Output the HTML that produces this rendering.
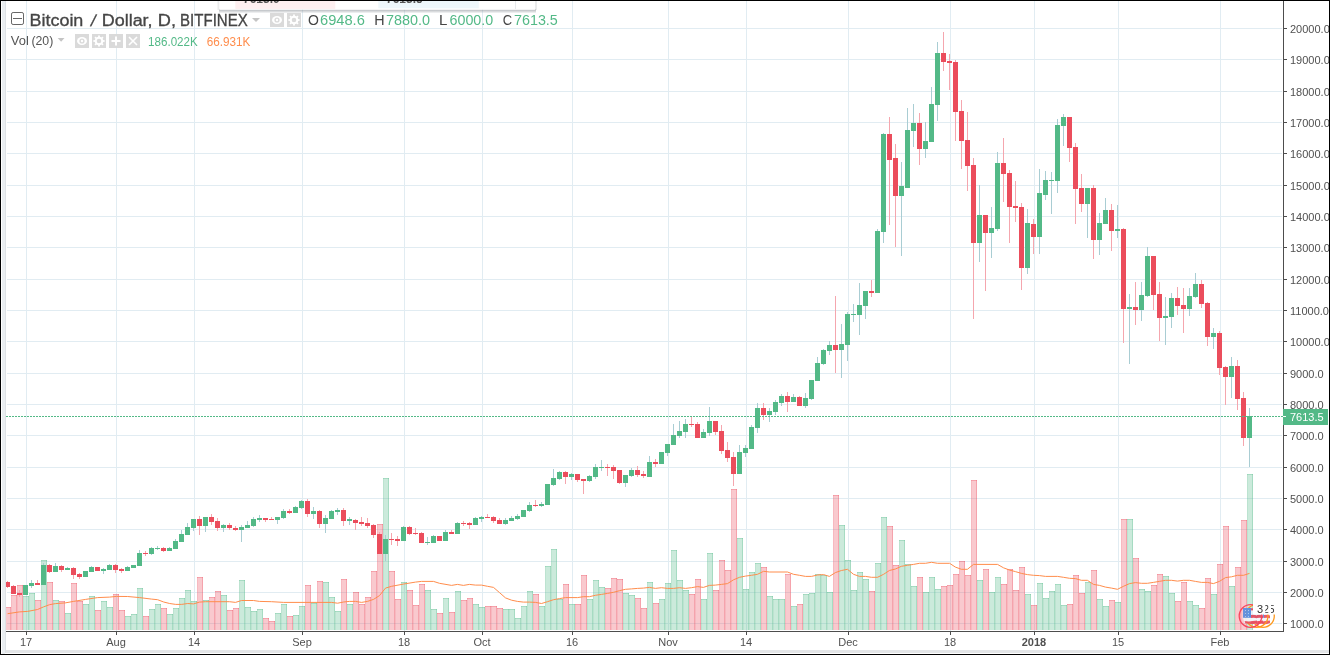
<!DOCTYPE html>
<html><head><meta charset="utf-8"><title>Bitcoin / Dollar, D, BITFINEX</title>
<style>html,body{margin:0;padding:0;background:#fff;overflow:hidden}</style></head>
<body>
<svg width="1330" height="655" viewBox="0 0 1330 655" style="display:block;font-family:'Liberation Sans',sans-serif">
<rect x="0" y="0" width="1330" height="655" fill="#fff"/>
<g shape-rendering="crispEdges">
<rect x="6" y="650" width="1323" height="3" fill="#e3e5e7"/>
<rect x="2" y="1" width="3" height="653" fill="#eaeef1"/>
<rect x="5" y="1" width="1" height="652" fill="#dde1e5"/>
<rect x="26" y="1" width="1" height="630" fill="#e1ecf2"/>
<rect x="116" y="1" width="1" height="630" fill="#e1ecf2"/>
<rect x="194" y="1" width="1" height="630" fill="#e1ecf2"/>
<rect x="302" y="1" width="1" height="630" fill="#e1ecf2"/>
<rect x="404" y="1" width="1" height="630" fill="#e1ecf2"/>
<rect x="482" y="1" width="1" height="630" fill="#e1ecf2"/>
<rect x="572" y="1" width="1" height="630" fill="#e1ecf2"/>
<rect x="668" y="1" width="1" height="630" fill="#e1ecf2"/>
<rect x="746" y="1" width="1" height="630" fill="#e1ecf2"/>
<rect x="848" y="1" width="1" height="630" fill="#e1ecf2"/>
<rect x="950" y="1" width="1" height="630" fill="#e1ecf2"/>
<rect x="1034" y="1" width="1" height="630" fill="#e1ecf2"/>
<rect x="1118" y="1" width="1" height="630" fill="#e1ecf2"/>
<rect x="1220" y="1" width="1" height="630" fill="#e1ecf2"/>
<rect x="7" y="28" width="1275" height="1" fill="#e1ecf2"/>
<rect x="7" y="59" width="1275" height="1" fill="#e1ecf2"/>
<rect x="7" y="91" width="1275" height="1" fill="#e1ecf2"/>
<rect x="7" y="122" width="1275" height="1" fill="#e1ecf2"/>
<rect x="7" y="153" width="1275" height="1" fill="#e1ecf2"/>
<rect x="7" y="185" width="1275" height="1" fill="#e1ecf2"/>
<rect x="7" y="216" width="1275" height="1" fill="#e1ecf2"/>
<rect x="7" y="247" width="1275" height="1" fill="#e1ecf2"/>
<rect x="7" y="279" width="1275" height="1" fill="#e1ecf2"/>
<rect x="7" y="310" width="1275" height="1" fill="#e1ecf2"/>
<rect x="7" y="341" width="1275" height="1" fill="#e1ecf2"/>
<rect x="7" y="373" width="1275" height="1" fill="#e1ecf2"/>
<rect x="7" y="404" width="1275" height="1" fill="#e1ecf2"/>
<rect x="7" y="435" width="1275" height="1" fill="#e1ecf2"/>
<rect x="7" y="467" width="1275" height="1" fill="#e1ecf2"/>
<rect x="7" y="498" width="1275" height="1" fill="#e1ecf2"/>
<rect x="7" y="529" width="1275" height="1" fill="#e1ecf2"/>
<rect x="7" y="561" width="1275" height="1" fill="#e1ecf2"/>
<rect x="7" y="592" width="1275" height="1" fill="#e1ecf2"/>
<rect x="7" y="623" width="1275" height="1" fill="#e1ecf2"/>
</g>
<defs><clipPath id="cp"><rect x="6" y="1" width="1277" height="630"/></clipPath></defs>
<g clip-path="url(#cp)" shape-rendering="crispEdges">
<rect x="5" y="607" width="6" height="23" fill="rgba(235,77,92,0.3)"/>
<rect x="10" y="607" width="1" height="23" fill="rgba(235,77,92,0.3)"/>
<rect x="5" y="607" width="1" height="23" fill="rgba(235,77,92,0.12)"/>
<rect x="5" y="607" width="6" height="1" fill="rgba(235,77,92,0.3)"/>
<rect x="11" y="595" width="6" height="35" fill="rgba(235,77,92,0.3)"/>
<rect x="16" y="595" width="1" height="35" fill="rgba(235,77,92,0.3)"/>
<rect x="11" y="595" width="1" height="35" fill="rgba(235,77,92,0.12)"/>
<rect x="11" y="595" width="6" height="1" fill="rgba(235,77,92,0.3)"/>
<rect x="17" y="585" width="6" height="45" fill="rgba(235,77,92,0.3)"/>
<rect x="22" y="585" width="1" height="45" fill="rgba(235,77,92,0.3)"/>
<rect x="17" y="585" width="1" height="45" fill="rgba(235,77,92,0.12)"/>
<rect x="17" y="585" width="6" height="1" fill="rgba(235,77,92,0.3)"/>
<rect x="23" y="596" width="6" height="34" fill="rgba(83,185,135,0.3)"/>
<rect x="28" y="596" width="1" height="34" fill="rgba(83,185,135,0.3)"/>
<rect x="23" y="596" width="1" height="34" fill="rgba(83,185,135,0.12)"/>
<rect x="23" y="596" width="6" height="1" fill="rgba(83,185,135,0.3)"/>
<rect x="29" y="593" width="6" height="37" fill="rgba(83,185,135,0.3)"/>
<rect x="34" y="593" width="1" height="37" fill="rgba(83,185,135,0.3)"/>
<rect x="29" y="593" width="1" height="37" fill="rgba(83,185,135,0.12)"/>
<rect x="29" y="593" width="6" height="1" fill="rgba(83,185,135,0.3)"/>
<rect x="35" y="600" width="6" height="30" fill="rgba(235,77,92,0.3)"/>
<rect x="40" y="600" width="1" height="30" fill="rgba(235,77,92,0.3)"/>
<rect x="35" y="600" width="1" height="30" fill="rgba(235,77,92,0.12)"/>
<rect x="35" y="600" width="6" height="1" fill="rgba(235,77,92,0.3)"/>
<rect x="41" y="560" width="6" height="70" fill="rgba(83,185,135,0.3)"/>
<rect x="46" y="560" width="1" height="70" fill="rgba(83,185,135,0.3)"/>
<rect x="41" y="560" width="1" height="70" fill="rgba(83,185,135,0.12)"/>
<rect x="41" y="560" width="6" height="1" fill="rgba(83,185,135,0.3)"/>
<rect x="47" y="582" width="6" height="48" fill="rgba(235,77,92,0.3)"/>
<rect x="52" y="582" width="1" height="48" fill="rgba(235,77,92,0.3)"/>
<rect x="47" y="582" width="1" height="48" fill="rgba(235,77,92,0.12)"/>
<rect x="47" y="582" width="6" height="1" fill="rgba(235,77,92,0.3)"/>
<rect x="53" y="600" width="6" height="30" fill="rgba(83,185,135,0.3)"/>
<rect x="58" y="600" width="1" height="30" fill="rgba(83,185,135,0.3)"/>
<rect x="53" y="600" width="1" height="30" fill="rgba(83,185,135,0.12)"/>
<rect x="53" y="600" width="6" height="1" fill="rgba(83,185,135,0.3)"/>
<rect x="59" y="601" width="6" height="29" fill="rgba(235,77,92,0.3)"/>
<rect x="64" y="601" width="1" height="29" fill="rgba(235,77,92,0.3)"/>
<rect x="59" y="601" width="1" height="29" fill="rgba(235,77,92,0.12)"/>
<rect x="59" y="601" width="6" height="1" fill="rgba(235,77,92,0.3)"/>
<rect x="65" y="613" width="6" height="17" fill="rgba(83,185,135,0.3)"/>
<rect x="70" y="613" width="1" height="17" fill="rgba(83,185,135,0.3)"/>
<rect x="65" y="613" width="1" height="17" fill="rgba(83,185,135,0.12)"/>
<rect x="65" y="613" width="6" height="1" fill="rgba(83,185,135,0.3)"/>
<rect x="71" y="583" width="6" height="47" fill="rgba(235,77,92,0.3)"/>
<rect x="76" y="583" width="1" height="47" fill="rgba(235,77,92,0.3)"/>
<rect x="71" y="583" width="1" height="47" fill="rgba(235,77,92,0.12)"/>
<rect x="71" y="583" width="6" height="1" fill="rgba(235,77,92,0.3)"/>
<rect x="77" y="601" width="6" height="29" fill="rgba(235,77,92,0.3)"/>
<rect x="82" y="601" width="1" height="29" fill="rgba(235,77,92,0.3)"/>
<rect x="77" y="601" width="1" height="29" fill="rgba(235,77,92,0.12)"/>
<rect x="77" y="601" width="6" height="1" fill="rgba(235,77,92,0.3)"/>
<rect x="83" y="604" width="6" height="26" fill="rgba(83,185,135,0.3)"/>
<rect x="88" y="604" width="1" height="26" fill="rgba(83,185,135,0.3)"/>
<rect x="83" y="604" width="1" height="26" fill="rgba(83,185,135,0.12)"/>
<rect x="83" y="604" width="6" height="1" fill="rgba(83,185,135,0.3)"/>
<rect x="89" y="596" width="6" height="34" fill="rgba(83,185,135,0.3)"/>
<rect x="94" y="596" width="1" height="34" fill="rgba(83,185,135,0.3)"/>
<rect x="89" y="596" width="1" height="34" fill="rgba(83,185,135,0.12)"/>
<rect x="89" y="596" width="6" height="1" fill="rgba(83,185,135,0.3)"/>
<rect x="95" y="610" width="6" height="20" fill="rgba(235,77,92,0.3)"/>
<rect x="100" y="610" width="1" height="20" fill="rgba(235,77,92,0.3)"/>
<rect x="95" y="610" width="1" height="20" fill="rgba(235,77,92,0.12)"/>
<rect x="95" y="610" width="6" height="1" fill="rgba(235,77,92,0.3)"/>
<rect x="101" y="601" width="6" height="29" fill="rgba(83,185,135,0.3)"/>
<rect x="106" y="601" width="1" height="29" fill="rgba(83,185,135,0.3)"/>
<rect x="101" y="601" width="1" height="29" fill="rgba(83,185,135,0.12)"/>
<rect x="101" y="601" width="6" height="1" fill="rgba(83,185,135,0.3)"/>
<rect x="107" y="607" width="6" height="23" fill="rgba(83,185,135,0.3)"/>
<rect x="112" y="607" width="1" height="23" fill="rgba(83,185,135,0.3)"/>
<rect x="107" y="607" width="1" height="23" fill="rgba(83,185,135,0.12)"/>
<rect x="107" y="607" width="6" height="1" fill="rgba(83,185,135,0.3)"/>
<rect x="113" y="594" width="6" height="36" fill="rgba(235,77,92,0.3)"/>
<rect x="118" y="594" width="1" height="36" fill="rgba(235,77,92,0.3)"/>
<rect x="113" y="594" width="1" height="36" fill="rgba(235,77,92,0.12)"/>
<rect x="113" y="594" width="6" height="1" fill="rgba(235,77,92,0.3)"/>
<rect x="119" y="610" width="6" height="20" fill="rgba(235,77,92,0.3)"/>
<rect x="124" y="610" width="1" height="20" fill="rgba(235,77,92,0.3)"/>
<rect x="119" y="610" width="1" height="20" fill="rgba(235,77,92,0.12)"/>
<rect x="119" y="610" width="6" height="1" fill="rgba(235,77,92,0.3)"/>
<rect x="125" y="616" width="6" height="14" fill="rgba(83,185,135,0.3)"/>
<rect x="130" y="616" width="1" height="14" fill="rgba(83,185,135,0.3)"/>
<rect x="125" y="616" width="1" height="14" fill="rgba(83,185,135,0.12)"/>
<rect x="125" y="616" width="6" height="1" fill="rgba(83,185,135,0.3)"/>
<rect x="131" y="614" width="6" height="16" fill="rgba(83,185,135,0.3)"/>
<rect x="136" y="614" width="1" height="16" fill="rgba(83,185,135,0.3)"/>
<rect x="131" y="614" width="1" height="16" fill="rgba(83,185,135,0.12)"/>
<rect x="131" y="614" width="6" height="1" fill="rgba(83,185,135,0.3)"/>
<rect x="137" y="588" width="6" height="42" fill="rgba(83,185,135,0.3)"/>
<rect x="142" y="588" width="1" height="42" fill="rgba(83,185,135,0.3)"/>
<rect x="137" y="588" width="1" height="42" fill="rgba(83,185,135,0.12)"/>
<rect x="137" y="588" width="6" height="1" fill="rgba(83,185,135,0.3)"/>
<rect x="143" y="616" width="6" height="14" fill="rgba(235,77,92,0.3)"/>
<rect x="148" y="616" width="1" height="14" fill="rgba(235,77,92,0.3)"/>
<rect x="143" y="616" width="1" height="14" fill="rgba(235,77,92,0.12)"/>
<rect x="143" y="616" width="6" height="1" fill="rgba(235,77,92,0.3)"/>
<rect x="149" y="609" width="6" height="21" fill="rgba(83,185,135,0.3)"/>
<rect x="154" y="609" width="1" height="21" fill="rgba(83,185,135,0.3)"/>
<rect x="149" y="609" width="1" height="21" fill="rgba(83,185,135,0.12)"/>
<rect x="149" y="609" width="6" height="1" fill="rgba(83,185,135,0.3)"/>
<rect x="155" y="604" width="6" height="26" fill="rgba(83,185,135,0.3)"/>
<rect x="160" y="604" width="1" height="26" fill="rgba(83,185,135,0.3)"/>
<rect x="155" y="604" width="1" height="26" fill="rgba(83,185,135,0.12)"/>
<rect x="155" y="604" width="6" height="1" fill="rgba(83,185,135,0.3)"/>
<rect x="161" y="608" width="6" height="22" fill="rgba(235,77,92,0.3)"/>
<rect x="166" y="608" width="1" height="22" fill="rgba(235,77,92,0.3)"/>
<rect x="161" y="608" width="1" height="22" fill="rgba(235,77,92,0.12)"/>
<rect x="161" y="608" width="6" height="1" fill="rgba(235,77,92,0.3)"/>
<rect x="167" y="614" width="6" height="16" fill="rgba(83,185,135,0.3)"/>
<rect x="172" y="614" width="1" height="16" fill="rgba(83,185,135,0.3)"/>
<rect x="167" y="614" width="1" height="16" fill="rgba(83,185,135,0.12)"/>
<rect x="167" y="614" width="6" height="1" fill="rgba(83,185,135,0.3)"/>
<rect x="173" y="608" width="6" height="22" fill="rgba(83,185,135,0.3)"/>
<rect x="178" y="608" width="1" height="22" fill="rgba(83,185,135,0.3)"/>
<rect x="173" y="608" width="1" height="22" fill="rgba(83,185,135,0.12)"/>
<rect x="173" y="608" width="6" height="1" fill="rgba(83,185,135,0.3)"/>
<rect x="179" y="598" width="6" height="32" fill="rgba(83,185,135,0.3)"/>
<rect x="184" y="598" width="1" height="32" fill="rgba(83,185,135,0.3)"/>
<rect x="179" y="598" width="1" height="32" fill="rgba(83,185,135,0.12)"/>
<rect x="179" y="598" width="6" height="1" fill="rgba(83,185,135,0.3)"/>
<rect x="185" y="590" width="6" height="40" fill="rgba(83,185,135,0.3)"/>
<rect x="190" y="590" width="1" height="40" fill="rgba(83,185,135,0.3)"/>
<rect x="185" y="590" width="1" height="40" fill="rgba(83,185,135,0.12)"/>
<rect x="185" y="590" width="6" height="1" fill="rgba(83,185,135,0.3)"/>
<rect x="191" y="601" width="6" height="29" fill="rgba(83,185,135,0.3)"/>
<rect x="196" y="601" width="1" height="29" fill="rgba(83,185,135,0.3)"/>
<rect x="191" y="601" width="1" height="29" fill="rgba(83,185,135,0.12)"/>
<rect x="191" y="601" width="6" height="1" fill="rgba(83,185,135,0.3)"/>
<rect x="197" y="577" width="6" height="53" fill="rgba(235,77,92,0.3)"/>
<rect x="202" y="577" width="1" height="53" fill="rgba(235,77,92,0.3)"/>
<rect x="197" y="577" width="1" height="53" fill="rgba(235,77,92,0.12)"/>
<rect x="197" y="577" width="6" height="1" fill="rgba(235,77,92,0.3)"/>
<rect x="203" y="600" width="6" height="30" fill="rgba(83,185,135,0.3)"/>
<rect x="208" y="600" width="1" height="30" fill="rgba(83,185,135,0.3)"/>
<rect x="203" y="600" width="1" height="30" fill="rgba(83,185,135,0.12)"/>
<rect x="203" y="600" width="6" height="1" fill="rgba(83,185,135,0.3)"/>
<rect x="209" y="597" width="6" height="33" fill="rgba(235,77,92,0.3)"/>
<rect x="214" y="597" width="1" height="33" fill="rgba(235,77,92,0.3)"/>
<rect x="209" y="597" width="1" height="33" fill="rgba(235,77,92,0.12)"/>
<rect x="209" y="597" width="6" height="1" fill="rgba(235,77,92,0.3)"/>
<rect x="215" y="591" width="6" height="39" fill="rgba(235,77,92,0.3)"/>
<rect x="220" y="591" width="1" height="39" fill="rgba(235,77,92,0.3)"/>
<rect x="215" y="591" width="1" height="39" fill="rgba(235,77,92,0.12)"/>
<rect x="215" y="591" width="6" height="1" fill="rgba(235,77,92,0.3)"/>
<rect x="221" y="595" width="6" height="35" fill="rgba(83,185,135,0.3)"/>
<rect x="226" y="595" width="1" height="35" fill="rgba(83,185,135,0.3)"/>
<rect x="221" y="595" width="1" height="35" fill="rgba(83,185,135,0.12)"/>
<rect x="221" y="595" width="6" height="1" fill="rgba(83,185,135,0.3)"/>
<rect x="227" y="610" width="6" height="20" fill="rgba(235,77,92,0.3)"/>
<rect x="232" y="610" width="1" height="20" fill="rgba(235,77,92,0.3)"/>
<rect x="227" y="610" width="1" height="20" fill="rgba(235,77,92,0.12)"/>
<rect x="227" y="610" width="6" height="1" fill="rgba(235,77,92,0.3)"/>
<rect x="233" y="608" width="6" height="22" fill="rgba(235,77,92,0.3)"/>
<rect x="238" y="608" width="1" height="22" fill="rgba(235,77,92,0.3)"/>
<rect x="233" y="608" width="1" height="22" fill="rgba(235,77,92,0.12)"/>
<rect x="233" y="608" width="6" height="1" fill="rgba(235,77,92,0.3)"/>
<rect x="239" y="580" width="6" height="50" fill="rgba(83,185,135,0.3)"/>
<rect x="244" y="580" width="1" height="50" fill="rgba(83,185,135,0.3)"/>
<rect x="239" y="580" width="1" height="50" fill="rgba(83,185,135,0.12)"/>
<rect x="239" y="580" width="6" height="1" fill="rgba(83,185,135,0.3)"/>
<rect x="245" y="607" width="6" height="23" fill="rgba(83,185,135,0.3)"/>
<rect x="250" y="607" width="1" height="23" fill="rgba(83,185,135,0.3)"/>
<rect x="245" y="607" width="1" height="23" fill="rgba(83,185,135,0.12)"/>
<rect x="245" y="607" width="6" height="1" fill="rgba(83,185,135,0.3)"/>
<rect x="251" y="611" width="6" height="19" fill="rgba(83,185,135,0.3)"/>
<rect x="256" y="611" width="1" height="19" fill="rgba(83,185,135,0.3)"/>
<rect x="251" y="611" width="1" height="19" fill="rgba(83,185,135,0.12)"/>
<rect x="251" y="611" width="6" height="1" fill="rgba(83,185,135,0.3)"/>
<rect x="257" y="609" width="6" height="21" fill="rgba(83,185,135,0.3)"/>
<rect x="262" y="609" width="1" height="21" fill="rgba(83,185,135,0.3)"/>
<rect x="257" y="609" width="1" height="21" fill="rgba(83,185,135,0.12)"/>
<rect x="257" y="609" width="6" height="1" fill="rgba(83,185,135,0.3)"/>
<rect x="263" y="618" width="6" height="12" fill="rgba(235,77,92,0.3)"/>
<rect x="268" y="618" width="1" height="12" fill="rgba(235,77,92,0.3)"/>
<rect x="263" y="618" width="1" height="12" fill="rgba(235,77,92,0.12)"/>
<rect x="263" y="618" width="6" height="1" fill="rgba(235,77,92,0.3)"/>
<rect x="269" y="621" width="6" height="9" fill="rgba(235,77,92,0.3)"/>
<rect x="274" y="621" width="1" height="9" fill="rgba(235,77,92,0.3)"/>
<rect x="269" y="621" width="1" height="9" fill="rgba(235,77,92,0.12)"/>
<rect x="269" y="621" width="6" height="1" fill="rgba(235,77,92,0.3)"/>
<rect x="275" y="613" width="6" height="17" fill="rgba(83,185,135,0.3)"/>
<rect x="280" y="613" width="1" height="17" fill="rgba(83,185,135,0.3)"/>
<rect x="275" y="613" width="1" height="17" fill="rgba(83,185,135,0.12)"/>
<rect x="275" y="613" width="6" height="1" fill="rgba(83,185,135,0.3)"/>
<rect x="281" y="604" width="6" height="26" fill="rgba(83,185,135,0.3)"/>
<rect x="286" y="604" width="1" height="26" fill="rgba(83,185,135,0.3)"/>
<rect x="281" y="604" width="1" height="26" fill="rgba(83,185,135,0.12)"/>
<rect x="281" y="604" width="6" height="1" fill="rgba(83,185,135,0.3)"/>
<rect x="287" y="616" width="6" height="14" fill="rgba(235,77,92,0.3)"/>
<rect x="292" y="616" width="1" height="14" fill="rgba(235,77,92,0.3)"/>
<rect x="287" y="616" width="1" height="14" fill="rgba(235,77,92,0.12)"/>
<rect x="287" y="616" width="6" height="1" fill="rgba(235,77,92,0.3)"/>
<rect x="293" y="615" width="6" height="15" fill="rgba(83,185,135,0.3)"/>
<rect x="298" y="615" width="1" height="15" fill="rgba(83,185,135,0.3)"/>
<rect x="293" y="615" width="1" height="15" fill="rgba(83,185,135,0.12)"/>
<rect x="293" y="615" width="6" height="1" fill="rgba(83,185,135,0.3)"/>
<rect x="299" y="606" width="6" height="24" fill="rgba(83,185,135,0.3)"/>
<rect x="304" y="606" width="1" height="24" fill="rgba(83,185,135,0.3)"/>
<rect x="299" y="606" width="1" height="24" fill="rgba(83,185,135,0.12)"/>
<rect x="299" y="606" width="6" height="1" fill="rgba(83,185,135,0.3)"/>
<rect x="305" y="585" width="6" height="45" fill="rgba(235,77,92,0.3)"/>
<rect x="310" y="585" width="1" height="45" fill="rgba(235,77,92,0.3)"/>
<rect x="305" y="585" width="1" height="45" fill="rgba(235,77,92,0.12)"/>
<rect x="305" y="585" width="6" height="1" fill="rgba(235,77,92,0.3)"/>
<rect x="311" y="603" width="6" height="27" fill="rgba(83,185,135,0.3)"/>
<rect x="316" y="603" width="1" height="27" fill="rgba(83,185,135,0.3)"/>
<rect x="311" y="603" width="1" height="27" fill="rgba(83,185,135,0.12)"/>
<rect x="311" y="603" width="6" height="1" fill="rgba(83,185,135,0.3)"/>
<rect x="317" y="581" width="6" height="49" fill="rgba(235,77,92,0.3)"/>
<rect x="322" y="581" width="1" height="49" fill="rgba(235,77,92,0.3)"/>
<rect x="317" y="581" width="1" height="49" fill="rgba(235,77,92,0.12)"/>
<rect x="317" y="581" width="6" height="1" fill="rgba(235,77,92,0.3)"/>
<rect x="323" y="582" width="6" height="48" fill="rgba(83,185,135,0.3)"/>
<rect x="328" y="582" width="1" height="48" fill="rgba(83,185,135,0.3)"/>
<rect x="323" y="582" width="1" height="48" fill="rgba(83,185,135,0.12)"/>
<rect x="323" y="582" width="6" height="1" fill="rgba(83,185,135,0.3)"/>
<rect x="329" y="597" width="6" height="33" fill="rgba(83,185,135,0.3)"/>
<rect x="334" y="597" width="1" height="33" fill="rgba(83,185,135,0.3)"/>
<rect x="329" y="597" width="1" height="33" fill="rgba(83,185,135,0.12)"/>
<rect x="329" y="597" width="6" height="1" fill="rgba(83,185,135,0.3)"/>
<rect x="335" y="611" width="6" height="19" fill="rgba(83,185,135,0.3)"/>
<rect x="340" y="611" width="1" height="19" fill="rgba(83,185,135,0.3)"/>
<rect x="335" y="611" width="1" height="19" fill="rgba(83,185,135,0.12)"/>
<rect x="335" y="611" width="6" height="1" fill="rgba(83,185,135,0.3)"/>
<rect x="341" y="579" width="6" height="51" fill="rgba(235,77,92,0.3)"/>
<rect x="346" y="579" width="1" height="51" fill="rgba(235,77,92,0.3)"/>
<rect x="341" y="579" width="1" height="51" fill="rgba(235,77,92,0.12)"/>
<rect x="341" y="579" width="6" height="1" fill="rgba(235,77,92,0.3)"/>
<rect x="347" y="604" width="6" height="26" fill="rgba(83,185,135,0.3)"/>
<rect x="352" y="604" width="1" height="26" fill="rgba(83,185,135,0.3)"/>
<rect x="347" y="604" width="1" height="26" fill="rgba(83,185,135,0.12)"/>
<rect x="347" y="604" width="6" height="1" fill="rgba(83,185,135,0.3)"/>
<rect x="353" y="592" width="6" height="38" fill="rgba(235,77,92,0.3)"/>
<rect x="358" y="592" width="1" height="38" fill="rgba(235,77,92,0.3)"/>
<rect x="353" y="592" width="1" height="38" fill="rgba(235,77,92,0.12)"/>
<rect x="353" y="592" width="6" height="1" fill="rgba(235,77,92,0.3)"/>
<rect x="359" y="604" width="6" height="26" fill="rgba(235,77,92,0.3)"/>
<rect x="364" y="604" width="1" height="26" fill="rgba(235,77,92,0.3)"/>
<rect x="359" y="604" width="1" height="26" fill="rgba(235,77,92,0.12)"/>
<rect x="359" y="604" width="6" height="1" fill="rgba(235,77,92,0.3)"/>
<rect x="365" y="597" width="6" height="33" fill="rgba(235,77,92,0.3)"/>
<rect x="370" y="597" width="1" height="33" fill="rgba(235,77,92,0.3)"/>
<rect x="365" y="597" width="1" height="33" fill="rgba(235,77,92,0.12)"/>
<rect x="365" y="597" width="6" height="1" fill="rgba(235,77,92,0.3)"/>
<rect x="371" y="571" width="6" height="59" fill="rgba(235,77,92,0.3)"/>
<rect x="376" y="571" width="1" height="59" fill="rgba(235,77,92,0.3)"/>
<rect x="371" y="571" width="1" height="59" fill="rgba(235,77,92,0.12)"/>
<rect x="371" y="571" width="6" height="1" fill="rgba(235,77,92,0.3)"/>
<rect x="377" y="524" width="6" height="106" fill="rgba(235,77,92,0.3)"/>
<rect x="382" y="524" width="1" height="106" fill="rgba(235,77,92,0.3)"/>
<rect x="377" y="524" width="1" height="106" fill="rgba(235,77,92,0.12)"/>
<rect x="377" y="524" width="6" height="1" fill="rgba(235,77,92,0.3)"/>
<rect x="383" y="478" width="6" height="152" fill="rgba(83,185,135,0.3)"/>
<rect x="388" y="478" width="1" height="152" fill="rgba(83,185,135,0.3)"/>
<rect x="383" y="478" width="1" height="152" fill="rgba(83,185,135,0.12)"/>
<rect x="383" y="478" width="6" height="1" fill="rgba(83,185,135,0.3)"/>
<rect x="389" y="571" width="6" height="59" fill="rgba(235,77,92,0.3)"/>
<rect x="394" y="571" width="1" height="59" fill="rgba(235,77,92,0.3)"/>
<rect x="389" y="571" width="1" height="59" fill="rgba(235,77,92,0.12)"/>
<rect x="389" y="571" width="6" height="1" fill="rgba(235,77,92,0.3)"/>
<rect x="395" y="599" width="6" height="31" fill="rgba(235,77,92,0.3)"/>
<rect x="400" y="599" width="1" height="31" fill="rgba(235,77,92,0.3)"/>
<rect x="395" y="599" width="1" height="31" fill="rgba(235,77,92,0.12)"/>
<rect x="395" y="599" width="6" height="1" fill="rgba(235,77,92,0.3)"/>
<rect x="401" y="582" width="6" height="48" fill="rgba(83,185,135,0.3)"/>
<rect x="406" y="582" width="1" height="48" fill="rgba(83,185,135,0.3)"/>
<rect x="401" y="582" width="1" height="48" fill="rgba(83,185,135,0.12)"/>
<rect x="401" y="582" width="6" height="1" fill="rgba(83,185,135,0.3)"/>
<rect x="407" y="590" width="6" height="40" fill="rgba(235,77,92,0.3)"/>
<rect x="412" y="590" width="1" height="40" fill="rgba(235,77,92,0.3)"/>
<rect x="407" y="590" width="1" height="40" fill="rgba(235,77,92,0.12)"/>
<rect x="407" y="590" width="6" height="1" fill="rgba(235,77,92,0.3)"/>
<rect x="413" y="605" width="6" height="25" fill="rgba(235,77,92,0.3)"/>
<rect x="418" y="605" width="1" height="25" fill="rgba(235,77,92,0.3)"/>
<rect x="413" y="605" width="1" height="25" fill="rgba(235,77,92,0.12)"/>
<rect x="413" y="605" width="6" height="1" fill="rgba(235,77,92,0.3)"/>
<rect x="419" y="584" width="6" height="46" fill="rgba(235,77,92,0.3)"/>
<rect x="424" y="584" width="1" height="46" fill="rgba(235,77,92,0.3)"/>
<rect x="419" y="584" width="1" height="46" fill="rgba(235,77,92,0.12)"/>
<rect x="419" y="584" width="6" height="1" fill="rgba(235,77,92,0.3)"/>
<rect x="425" y="590" width="6" height="40" fill="rgba(83,185,135,0.3)"/>
<rect x="430" y="590" width="1" height="40" fill="rgba(83,185,135,0.3)"/>
<rect x="425" y="590" width="1" height="40" fill="rgba(83,185,135,0.12)"/>
<rect x="425" y="590" width="6" height="1" fill="rgba(83,185,135,0.3)"/>
<rect x="431" y="609" width="6" height="21" fill="rgba(83,185,135,0.3)"/>
<rect x="436" y="609" width="1" height="21" fill="rgba(83,185,135,0.3)"/>
<rect x="431" y="609" width="1" height="21" fill="rgba(83,185,135,0.12)"/>
<rect x="431" y="609" width="6" height="1" fill="rgba(83,185,135,0.3)"/>
<rect x="437" y="613" width="6" height="17" fill="rgba(235,77,92,0.3)"/>
<rect x="442" y="613" width="1" height="17" fill="rgba(235,77,92,0.3)"/>
<rect x="437" y="613" width="1" height="17" fill="rgba(235,77,92,0.12)"/>
<rect x="437" y="613" width="6" height="1" fill="rgba(235,77,92,0.3)"/>
<rect x="443" y="598" width="6" height="32" fill="rgba(83,185,135,0.3)"/>
<rect x="448" y="598" width="1" height="32" fill="rgba(83,185,135,0.3)"/>
<rect x="443" y="598" width="1" height="32" fill="rgba(83,185,135,0.12)"/>
<rect x="443" y="598" width="6" height="1" fill="rgba(83,185,135,0.3)"/>
<rect x="449" y="612" width="6" height="18" fill="rgba(235,77,92,0.3)"/>
<rect x="454" y="612" width="1" height="18" fill="rgba(235,77,92,0.3)"/>
<rect x="449" y="612" width="1" height="18" fill="rgba(235,77,92,0.12)"/>
<rect x="449" y="612" width="6" height="1" fill="rgba(235,77,92,0.3)"/>
<rect x="455" y="591" width="6" height="39" fill="rgba(83,185,135,0.3)"/>
<rect x="460" y="591" width="1" height="39" fill="rgba(83,185,135,0.3)"/>
<rect x="455" y="591" width="1" height="39" fill="rgba(83,185,135,0.12)"/>
<rect x="455" y="591" width="6" height="1" fill="rgba(83,185,135,0.3)"/>
<rect x="461" y="600" width="6" height="30" fill="rgba(235,77,92,0.3)"/>
<rect x="466" y="600" width="1" height="30" fill="rgba(235,77,92,0.3)"/>
<rect x="461" y="600" width="1" height="30" fill="rgba(235,77,92,0.12)"/>
<rect x="461" y="600" width="6" height="1" fill="rgba(235,77,92,0.3)"/>
<rect x="467" y="598" width="6" height="32" fill="rgba(235,77,92,0.3)"/>
<rect x="472" y="598" width="1" height="32" fill="rgba(235,77,92,0.3)"/>
<rect x="467" y="598" width="1" height="32" fill="rgba(235,77,92,0.12)"/>
<rect x="467" y="598" width="6" height="1" fill="rgba(235,77,92,0.3)"/>
<rect x="473" y="604" width="6" height="26" fill="rgba(83,185,135,0.3)"/>
<rect x="478" y="604" width="1" height="26" fill="rgba(83,185,135,0.3)"/>
<rect x="473" y="604" width="1" height="26" fill="rgba(83,185,135,0.12)"/>
<rect x="473" y="604" width="6" height="1" fill="rgba(83,185,135,0.3)"/>
<rect x="479" y="607" width="6" height="23" fill="rgba(83,185,135,0.3)"/>
<rect x="484" y="607" width="1" height="23" fill="rgba(83,185,135,0.3)"/>
<rect x="479" y="607" width="1" height="23" fill="rgba(83,185,135,0.12)"/>
<rect x="479" y="607" width="6" height="1" fill="rgba(83,185,135,0.3)"/>
<rect x="485" y="606" width="6" height="24" fill="rgba(235,77,92,0.3)"/>
<rect x="490" y="606" width="1" height="24" fill="rgba(235,77,92,0.3)"/>
<rect x="485" y="606" width="1" height="24" fill="rgba(235,77,92,0.12)"/>
<rect x="485" y="606" width="6" height="1" fill="rgba(235,77,92,0.3)"/>
<rect x="491" y="606" width="6" height="24" fill="rgba(235,77,92,0.3)"/>
<rect x="496" y="606" width="1" height="24" fill="rgba(235,77,92,0.3)"/>
<rect x="491" y="606" width="1" height="24" fill="rgba(235,77,92,0.12)"/>
<rect x="491" y="606" width="6" height="1" fill="rgba(235,77,92,0.3)"/>
<rect x="497" y="608" width="6" height="22" fill="rgba(235,77,92,0.3)"/>
<rect x="502" y="608" width="1" height="22" fill="rgba(235,77,92,0.3)"/>
<rect x="497" y="608" width="1" height="22" fill="rgba(235,77,92,0.12)"/>
<rect x="497" y="608" width="6" height="1" fill="rgba(235,77,92,0.3)"/>
<rect x="503" y="609" width="6" height="21" fill="rgba(83,185,135,0.3)"/>
<rect x="508" y="609" width="1" height="21" fill="rgba(83,185,135,0.3)"/>
<rect x="503" y="609" width="1" height="21" fill="rgba(83,185,135,0.12)"/>
<rect x="503" y="609" width="6" height="1" fill="rgba(83,185,135,0.3)"/>
<rect x="509" y="609" width="6" height="21" fill="rgba(83,185,135,0.3)"/>
<rect x="514" y="609" width="1" height="21" fill="rgba(83,185,135,0.3)"/>
<rect x="509" y="609" width="1" height="21" fill="rgba(83,185,135,0.12)"/>
<rect x="509" y="609" width="6" height="1" fill="rgba(83,185,135,0.3)"/>
<rect x="515" y="618" width="6" height="12" fill="rgba(83,185,135,0.3)"/>
<rect x="520" y="618" width="1" height="12" fill="rgba(83,185,135,0.3)"/>
<rect x="515" y="618" width="1" height="12" fill="rgba(83,185,135,0.12)"/>
<rect x="515" y="618" width="6" height="1" fill="rgba(83,185,135,0.3)"/>
<rect x="521" y="606" width="6" height="24" fill="rgba(83,185,135,0.3)"/>
<rect x="526" y="606" width="1" height="24" fill="rgba(83,185,135,0.3)"/>
<rect x="521" y="606" width="1" height="24" fill="rgba(83,185,135,0.12)"/>
<rect x="521" y="606" width="6" height="1" fill="rgba(83,185,135,0.3)"/>
<rect x="527" y="591" width="6" height="39" fill="rgba(83,185,135,0.3)"/>
<rect x="532" y="591" width="1" height="39" fill="rgba(83,185,135,0.3)"/>
<rect x="527" y="591" width="1" height="39" fill="rgba(83,185,135,0.12)"/>
<rect x="527" y="591" width="6" height="1" fill="rgba(83,185,135,0.3)"/>
<rect x="533" y="594" width="6" height="36" fill="rgba(235,77,92,0.3)"/>
<rect x="538" y="594" width="1" height="36" fill="rgba(235,77,92,0.3)"/>
<rect x="533" y="594" width="1" height="36" fill="rgba(235,77,92,0.12)"/>
<rect x="533" y="594" width="6" height="1" fill="rgba(235,77,92,0.3)"/>
<rect x="539" y="606" width="6" height="24" fill="rgba(83,185,135,0.3)"/>
<rect x="544" y="606" width="1" height="24" fill="rgba(83,185,135,0.3)"/>
<rect x="539" y="606" width="1" height="24" fill="rgba(83,185,135,0.12)"/>
<rect x="539" y="606" width="6" height="1" fill="rgba(83,185,135,0.3)"/>
<rect x="545" y="566" width="6" height="64" fill="rgba(83,185,135,0.3)"/>
<rect x="550" y="566" width="1" height="64" fill="rgba(83,185,135,0.3)"/>
<rect x="545" y="566" width="1" height="64" fill="rgba(83,185,135,0.12)"/>
<rect x="545" y="566" width="6" height="1" fill="rgba(83,185,135,0.3)"/>
<rect x="551" y="549" width="6" height="81" fill="rgba(83,185,135,0.3)"/>
<rect x="556" y="549" width="1" height="81" fill="rgba(83,185,135,0.3)"/>
<rect x="551" y="549" width="1" height="81" fill="rgba(83,185,135,0.12)"/>
<rect x="551" y="549" width="6" height="1" fill="rgba(83,185,135,0.3)"/>
<rect x="557" y="599" width="6" height="31" fill="rgba(83,185,135,0.3)"/>
<rect x="562" y="599" width="1" height="31" fill="rgba(83,185,135,0.3)"/>
<rect x="557" y="599" width="1" height="31" fill="rgba(83,185,135,0.12)"/>
<rect x="557" y="599" width="6" height="1" fill="rgba(83,185,135,0.3)"/>
<rect x="563" y="584" width="6" height="46" fill="rgba(235,77,92,0.3)"/>
<rect x="568" y="584" width="1" height="46" fill="rgba(235,77,92,0.3)"/>
<rect x="563" y="584" width="1" height="46" fill="rgba(235,77,92,0.12)"/>
<rect x="563" y="584" width="6" height="1" fill="rgba(235,77,92,0.3)"/>
<rect x="569" y="604" width="6" height="26" fill="rgba(83,185,135,0.3)"/>
<rect x="574" y="604" width="1" height="26" fill="rgba(83,185,135,0.3)"/>
<rect x="569" y="604" width="1" height="26" fill="rgba(83,185,135,0.12)"/>
<rect x="569" y="604" width="6" height="1" fill="rgba(83,185,135,0.3)"/>
<rect x="575" y="604" width="6" height="26" fill="rgba(235,77,92,0.3)"/>
<rect x="580" y="604" width="1" height="26" fill="rgba(235,77,92,0.3)"/>
<rect x="575" y="604" width="1" height="26" fill="rgba(235,77,92,0.12)"/>
<rect x="575" y="604" width="6" height="1" fill="rgba(235,77,92,0.3)"/>
<rect x="581" y="575" width="6" height="55" fill="rgba(235,77,92,0.3)"/>
<rect x="586" y="575" width="1" height="55" fill="rgba(235,77,92,0.3)"/>
<rect x="581" y="575" width="1" height="55" fill="rgba(235,77,92,0.12)"/>
<rect x="581" y="575" width="6" height="1" fill="rgba(235,77,92,0.3)"/>
<rect x="587" y="599" width="6" height="31" fill="rgba(83,185,135,0.3)"/>
<rect x="592" y="599" width="1" height="31" fill="rgba(83,185,135,0.3)"/>
<rect x="587" y="599" width="1" height="31" fill="rgba(83,185,135,0.12)"/>
<rect x="587" y="599" width="6" height="1" fill="rgba(83,185,135,0.3)"/>
<rect x="593" y="580" width="6" height="50" fill="rgba(83,185,135,0.3)"/>
<rect x="598" y="580" width="1" height="50" fill="rgba(83,185,135,0.3)"/>
<rect x="593" y="580" width="1" height="50" fill="rgba(83,185,135,0.12)"/>
<rect x="593" y="580" width="6" height="1" fill="rgba(83,185,135,0.3)"/>
<rect x="599" y="587" width="6" height="43" fill="rgba(83,185,135,0.3)"/>
<rect x="604" y="587" width="1" height="43" fill="rgba(83,185,135,0.3)"/>
<rect x="599" y="587" width="1" height="43" fill="rgba(83,185,135,0.12)"/>
<rect x="599" y="587" width="6" height="1" fill="rgba(83,185,135,0.3)"/>
<rect x="605" y="588" width="6" height="42" fill="rgba(235,77,92,0.3)"/>
<rect x="610" y="588" width="1" height="42" fill="rgba(235,77,92,0.3)"/>
<rect x="605" y="588" width="1" height="42" fill="rgba(235,77,92,0.12)"/>
<rect x="605" y="588" width="6" height="1" fill="rgba(235,77,92,0.3)"/>
<rect x="611" y="578" width="6" height="52" fill="rgba(235,77,92,0.3)"/>
<rect x="616" y="578" width="1" height="52" fill="rgba(235,77,92,0.3)"/>
<rect x="611" y="578" width="1" height="52" fill="rgba(235,77,92,0.12)"/>
<rect x="611" y="578" width="6" height="1" fill="rgba(235,77,92,0.3)"/>
<rect x="617" y="579" width="6" height="51" fill="rgba(235,77,92,0.3)"/>
<rect x="622" y="579" width="1" height="51" fill="rgba(235,77,92,0.3)"/>
<rect x="617" y="579" width="1" height="51" fill="rgba(235,77,92,0.12)"/>
<rect x="617" y="579" width="6" height="1" fill="rgba(235,77,92,0.3)"/>
<rect x="623" y="593" width="6" height="37" fill="rgba(83,185,135,0.3)"/>
<rect x="628" y="593" width="1" height="37" fill="rgba(83,185,135,0.3)"/>
<rect x="623" y="593" width="1" height="37" fill="rgba(83,185,135,0.12)"/>
<rect x="623" y="593" width="6" height="1" fill="rgba(83,185,135,0.3)"/>
<rect x="629" y="595" width="6" height="35" fill="rgba(83,185,135,0.3)"/>
<rect x="634" y="595" width="1" height="35" fill="rgba(83,185,135,0.3)"/>
<rect x="629" y="595" width="1" height="35" fill="rgba(83,185,135,0.12)"/>
<rect x="629" y="595" width="6" height="1" fill="rgba(83,185,135,0.3)"/>
<rect x="635" y="598" width="6" height="32" fill="rgba(235,77,92,0.3)"/>
<rect x="640" y="598" width="1" height="32" fill="rgba(235,77,92,0.3)"/>
<rect x="635" y="598" width="1" height="32" fill="rgba(235,77,92,0.12)"/>
<rect x="635" y="598" width="6" height="1" fill="rgba(235,77,92,0.3)"/>
<rect x="641" y="608" width="6" height="22" fill="rgba(235,77,92,0.3)"/>
<rect x="646" y="608" width="1" height="22" fill="rgba(235,77,92,0.3)"/>
<rect x="641" y="608" width="1" height="22" fill="rgba(235,77,92,0.12)"/>
<rect x="641" y="608" width="6" height="1" fill="rgba(235,77,92,0.3)"/>
<rect x="647" y="582" width="6" height="48" fill="rgba(83,185,135,0.3)"/>
<rect x="652" y="582" width="1" height="48" fill="rgba(83,185,135,0.3)"/>
<rect x="647" y="582" width="1" height="48" fill="rgba(83,185,135,0.12)"/>
<rect x="647" y="582" width="6" height="1" fill="rgba(83,185,135,0.3)"/>
<rect x="653" y="603" width="6" height="27" fill="rgba(235,77,92,0.3)"/>
<rect x="658" y="603" width="1" height="27" fill="rgba(235,77,92,0.3)"/>
<rect x="653" y="603" width="1" height="27" fill="rgba(235,77,92,0.12)"/>
<rect x="653" y="603" width="6" height="1" fill="rgba(235,77,92,0.3)"/>
<rect x="659" y="599" width="6" height="31" fill="rgba(83,185,135,0.3)"/>
<rect x="664" y="599" width="1" height="31" fill="rgba(83,185,135,0.3)"/>
<rect x="659" y="599" width="1" height="31" fill="rgba(83,185,135,0.12)"/>
<rect x="659" y="599" width="6" height="1" fill="rgba(83,185,135,0.3)"/>
<rect x="665" y="583" width="6" height="47" fill="rgba(83,185,135,0.3)"/>
<rect x="670" y="583" width="1" height="47" fill="rgba(83,185,135,0.3)"/>
<rect x="665" y="583" width="1" height="47" fill="rgba(83,185,135,0.12)"/>
<rect x="665" y="583" width="6" height="1" fill="rgba(83,185,135,0.3)"/>
<rect x="671" y="550" width="6" height="80" fill="rgba(83,185,135,0.3)"/>
<rect x="676" y="550" width="1" height="80" fill="rgba(83,185,135,0.3)"/>
<rect x="671" y="550" width="1" height="80" fill="rgba(83,185,135,0.12)"/>
<rect x="671" y="550" width="6" height="1" fill="rgba(83,185,135,0.3)"/>
<rect x="677" y="580" width="6" height="50" fill="rgba(83,185,135,0.3)"/>
<rect x="682" y="580" width="1" height="50" fill="rgba(83,185,135,0.3)"/>
<rect x="677" y="580" width="1" height="50" fill="rgba(83,185,135,0.12)"/>
<rect x="677" y="580" width="6" height="1" fill="rgba(83,185,135,0.3)"/>
<rect x="683" y="590" width="6" height="40" fill="rgba(83,185,135,0.3)"/>
<rect x="688" y="590" width="1" height="40" fill="rgba(83,185,135,0.3)"/>
<rect x="683" y="590" width="1" height="40" fill="rgba(83,185,135,0.12)"/>
<rect x="683" y="590" width="6" height="1" fill="rgba(83,185,135,0.3)"/>
<rect x="689" y="594" width="6" height="36" fill="rgba(235,77,92,0.3)"/>
<rect x="694" y="594" width="1" height="36" fill="rgba(235,77,92,0.3)"/>
<rect x="689" y="594" width="1" height="36" fill="rgba(235,77,92,0.12)"/>
<rect x="689" y="594" width="6" height="1" fill="rgba(235,77,92,0.3)"/>
<rect x="695" y="579" width="6" height="51" fill="rgba(235,77,92,0.3)"/>
<rect x="700" y="579" width="1" height="51" fill="rgba(235,77,92,0.3)"/>
<rect x="695" y="579" width="1" height="51" fill="rgba(235,77,92,0.12)"/>
<rect x="695" y="579" width="6" height="1" fill="rgba(235,77,92,0.3)"/>
<rect x="701" y="599" width="6" height="31" fill="rgba(83,185,135,0.3)"/>
<rect x="706" y="599" width="1" height="31" fill="rgba(83,185,135,0.3)"/>
<rect x="701" y="599" width="1" height="31" fill="rgba(83,185,135,0.12)"/>
<rect x="701" y="599" width="6" height="1" fill="rgba(83,185,135,0.3)"/>
<rect x="707" y="553" width="6" height="77" fill="rgba(83,185,135,0.3)"/>
<rect x="712" y="553" width="1" height="77" fill="rgba(83,185,135,0.3)"/>
<rect x="707" y="553" width="1" height="77" fill="rgba(83,185,135,0.12)"/>
<rect x="707" y="553" width="6" height="1" fill="rgba(83,185,135,0.3)"/>
<rect x="713" y="590" width="6" height="40" fill="rgba(235,77,92,0.3)"/>
<rect x="718" y="590" width="1" height="40" fill="rgba(235,77,92,0.3)"/>
<rect x="713" y="590" width="1" height="40" fill="rgba(235,77,92,0.12)"/>
<rect x="713" y="590" width="6" height="1" fill="rgba(235,77,92,0.3)"/>
<rect x="719" y="560" width="6" height="70" fill="rgba(235,77,92,0.3)"/>
<rect x="724" y="560" width="1" height="70" fill="rgba(235,77,92,0.3)"/>
<rect x="719" y="560" width="1" height="70" fill="rgba(235,77,92,0.12)"/>
<rect x="719" y="560" width="6" height="1" fill="rgba(235,77,92,0.3)"/>
<rect x="725" y="570" width="6" height="60" fill="rgba(235,77,92,0.3)"/>
<rect x="730" y="570" width="1" height="60" fill="rgba(235,77,92,0.3)"/>
<rect x="725" y="570" width="1" height="60" fill="rgba(235,77,92,0.12)"/>
<rect x="725" y="570" width="6" height="1" fill="rgba(235,77,92,0.3)"/>
<rect x="731" y="489" width="6" height="141" fill="rgba(235,77,92,0.3)"/>
<rect x="736" y="489" width="1" height="141" fill="rgba(235,77,92,0.3)"/>
<rect x="731" y="489" width="1" height="141" fill="rgba(235,77,92,0.12)"/>
<rect x="731" y="489" width="6" height="1" fill="rgba(235,77,92,0.3)"/>
<rect x="737" y="538" width="6" height="92" fill="rgba(83,185,135,0.3)"/>
<rect x="742" y="538" width="1" height="92" fill="rgba(83,185,135,0.3)"/>
<rect x="737" y="538" width="1" height="92" fill="rgba(83,185,135,0.12)"/>
<rect x="737" y="538" width="6" height="1" fill="rgba(83,185,135,0.3)"/>
<rect x="743" y="589" width="6" height="41" fill="rgba(83,185,135,0.3)"/>
<rect x="748" y="589" width="1" height="41" fill="rgba(83,185,135,0.3)"/>
<rect x="743" y="589" width="1" height="41" fill="rgba(83,185,135,0.12)"/>
<rect x="743" y="589" width="6" height="1" fill="rgba(83,185,135,0.3)"/>
<rect x="749" y="572" width="6" height="58" fill="rgba(83,185,135,0.3)"/>
<rect x="754" y="572" width="1" height="58" fill="rgba(83,185,135,0.3)"/>
<rect x="749" y="572" width="1" height="58" fill="rgba(83,185,135,0.12)"/>
<rect x="749" y="572" width="6" height="1" fill="rgba(83,185,135,0.3)"/>
<rect x="755" y="563" width="6" height="67" fill="rgba(83,185,135,0.3)"/>
<rect x="760" y="563" width="1" height="67" fill="rgba(83,185,135,0.3)"/>
<rect x="755" y="563" width="1" height="67" fill="rgba(83,185,135,0.12)"/>
<rect x="755" y="563" width="6" height="1" fill="rgba(83,185,135,0.3)"/>
<rect x="761" y="567" width="6" height="63" fill="rgba(235,77,92,0.3)"/>
<rect x="766" y="567" width="1" height="63" fill="rgba(235,77,92,0.3)"/>
<rect x="761" y="567" width="1" height="63" fill="rgba(235,77,92,0.12)"/>
<rect x="761" y="567" width="6" height="1" fill="rgba(235,77,92,0.3)"/>
<rect x="767" y="596" width="6" height="34" fill="rgba(83,185,135,0.3)"/>
<rect x="772" y="596" width="1" height="34" fill="rgba(83,185,135,0.3)"/>
<rect x="767" y="596" width="1" height="34" fill="rgba(83,185,135,0.12)"/>
<rect x="767" y="596" width="6" height="1" fill="rgba(83,185,135,0.3)"/>
<rect x="773" y="599" width="6" height="31" fill="rgba(83,185,135,0.3)"/>
<rect x="778" y="599" width="1" height="31" fill="rgba(83,185,135,0.3)"/>
<rect x="773" y="599" width="1" height="31" fill="rgba(83,185,135,0.12)"/>
<rect x="773" y="599" width="6" height="1" fill="rgba(83,185,135,0.3)"/>
<rect x="779" y="599" width="6" height="31" fill="rgba(83,185,135,0.3)"/>
<rect x="784" y="599" width="1" height="31" fill="rgba(83,185,135,0.3)"/>
<rect x="779" y="599" width="1" height="31" fill="rgba(83,185,135,0.12)"/>
<rect x="779" y="599" width="6" height="1" fill="rgba(83,185,135,0.3)"/>
<rect x="785" y="574" width="6" height="56" fill="rgba(235,77,92,0.3)"/>
<rect x="790" y="574" width="1" height="56" fill="rgba(235,77,92,0.3)"/>
<rect x="785" y="574" width="1" height="56" fill="rgba(235,77,92,0.12)"/>
<rect x="785" y="574" width="6" height="1" fill="rgba(235,77,92,0.3)"/>
<rect x="791" y="606" width="6" height="24" fill="rgba(83,185,135,0.3)"/>
<rect x="796" y="606" width="1" height="24" fill="rgba(83,185,135,0.3)"/>
<rect x="791" y="606" width="1" height="24" fill="rgba(83,185,135,0.12)"/>
<rect x="791" y="606" width="6" height="1" fill="rgba(83,185,135,0.3)"/>
<rect x="797" y="604" width="6" height="26" fill="rgba(235,77,92,0.3)"/>
<rect x="802" y="604" width="1" height="26" fill="rgba(235,77,92,0.3)"/>
<rect x="797" y="604" width="1" height="26" fill="rgba(235,77,92,0.12)"/>
<rect x="797" y="604" width="6" height="1" fill="rgba(235,77,92,0.3)"/>
<rect x="803" y="594" width="6" height="36" fill="rgba(83,185,135,0.3)"/>
<rect x="808" y="594" width="1" height="36" fill="rgba(83,185,135,0.3)"/>
<rect x="803" y="594" width="1" height="36" fill="rgba(83,185,135,0.12)"/>
<rect x="803" y="594" width="6" height="1" fill="rgba(83,185,135,0.3)"/>
<rect x="809" y="593" width="6" height="37" fill="rgba(83,185,135,0.3)"/>
<rect x="814" y="593" width="1" height="37" fill="rgba(83,185,135,0.3)"/>
<rect x="809" y="593" width="1" height="37" fill="rgba(83,185,135,0.12)"/>
<rect x="809" y="593" width="6" height="1" fill="rgba(83,185,135,0.3)"/>
<rect x="815" y="574" width="6" height="56" fill="rgba(83,185,135,0.3)"/>
<rect x="820" y="574" width="1" height="56" fill="rgba(83,185,135,0.3)"/>
<rect x="815" y="574" width="1" height="56" fill="rgba(83,185,135,0.12)"/>
<rect x="815" y="574" width="6" height="1" fill="rgba(83,185,135,0.3)"/>
<rect x="821" y="575" width="6" height="55" fill="rgba(83,185,135,0.3)"/>
<rect x="826" y="575" width="1" height="55" fill="rgba(83,185,135,0.3)"/>
<rect x="821" y="575" width="1" height="55" fill="rgba(83,185,135,0.12)"/>
<rect x="821" y="575" width="6" height="1" fill="rgba(83,185,135,0.3)"/>
<rect x="827" y="592" width="6" height="38" fill="rgba(83,185,135,0.3)"/>
<rect x="832" y="592" width="1" height="38" fill="rgba(83,185,135,0.3)"/>
<rect x="827" y="592" width="1" height="38" fill="rgba(83,185,135,0.12)"/>
<rect x="827" y="592" width="6" height="1" fill="rgba(83,185,135,0.3)"/>
<rect x="833" y="495" width="6" height="135" fill="rgba(235,77,92,0.3)"/>
<rect x="838" y="495" width="1" height="135" fill="rgba(235,77,92,0.3)"/>
<rect x="833" y="495" width="1" height="135" fill="rgba(235,77,92,0.12)"/>
<rect x="833" y="495" width="6" height="1" fill="rgba(235,77,92,0.3)"/>
<rect x="839" y="525" width="6" height="105" fill="rgba(83,185,135,0.3)"/>
<rect x="844" y="525" width="1" height="105" fill="rgba(83,185,135,0.3)"/>
<rect x="839" y="525" width="1" height="105" fill="rgba(83,185,135,0.12)"/>
<rect x="839" y="525" width="6" height="1" fill="rgba(83,185,135,0.3)"/>
<rect x="845" y="560" width="6" height="70" fill="rgba(83,185,135,0.3)"/>
<rect x="850" y="560" width="1" height="70" fill="rgba(83,185,135,0.3)"/>
<rect x="845" y="560" width="1" height="70" fill="rgba(83,185,135,0.12)"/>
<rect x="845" y="560" width="6" height="1" fill="rgba(83,185,135,0.3)"/>
<rect x="851" y="590" width="6" height="40" fill="rgba(83,185,135,0.3)"/>
<rect x="856" y="590" width="1" height="40" fill="rgba(83,185,135,0.3)"/>
<rect x="851" y="590" width="1" height="40" fill="rgba(83,185,135,0.12)"/>
<rect x="851" y="590" width="6" height="1" fill="rgba(83,185,135,0.3)"/>
<rect x="857" y="572" width="6" height="58" fill="rgba(83,185,135,0.3)"/>
<rect x="862" y="572" width="1" height="58" fill="rgba(83,185,135,0.3)"/>
<rect x="857" y="572" width="1" height="58" fill="rgba(83,185,135,0.12)"/>
<rect x="857" y="572" width="6" height="1" fill="rgba(83,185,135,0.3)"/>
<rect x="863" y="579" width="6" height="51" fill="rgba(83,185,135,0.3)"/>
<rect x="868" y="579" width="1" height="51" fill="rgba(83,185,135,0.3)"/>
<rect x="863" y="579" width="1" height="51" fill="rgba(83,185,135,0.12)"/>
<rect x="863" y="579" width="6" height="1" fill="rgba(83,185,135,0.3)"/>
<rect x="869" y="591" width="6" height="39" fill="rgba(235,77,92,0.3)"/>
<rect x="874" y="591" width="1" height="39" fill="rgba(235,77,92,0.3)"/>
<rect x="869" y="591" width="1" height="39" fill="rgba(235,77,92,0.12)"/>
<rect x="869" y="591" width="6" height="1" fill="rgba(235,77,92,0.3)"/>
<rect x="875" y="563" width="6" height="67" fill="rgba(83,185,135,0.3)"/>
<rect x="880" y="563" width="1" height="67" fill="rgba(83,185,135,0.3)"/>
<rect x="875" y="563" width="1" height="67" fill="rgba(83,185,135,0.12)"/>
<rect x="875" y="563" width="6" height="1" fill="rgba(83,185,135,0.3)"/>
<rect x="881" y="517" width="6" height="113" fill="rgba(83,185,135,0.3)"/>
<rect x="886" y="517" width="1" height="113" fill="rgba(83,185,135,0.3)"/>
<rect x="881" y="517" width="1" height="113" fill="rgba(83,185,135,0.12)"/>
<rect x="881" y="517" width="6" height="1" fill="rgba(83,185,135,0.3)"/>
<rect x="887" y="526" width="6" height="104" fill="rgba(235,77,92,0.3)"/>
<rect x="892" y="526" width="1" height="104" fill="rgba(235,77,92,0.3)"/>
<rect x="887" y="526" width="1" height="104" fill="rgba(235,77,92,0.12)"/>
<rect x="887" y="526" width="6" height="1" fill="rgba(235,77,92,0.3)"/>
<rect x="893" y="565" width="6" height="65" fill="rgba(235,77,92,0.3)"/>
<rect x="898" y="565" width="1" height="65" fill="rgba(235,77,92,0.3)"/>
<rect x="893" y="565" width="1" height="65" fill="rgba(235,77,92,0.12)"/>
<rect x="893" y="565" width="6" height="1" fill="rgba(235,77,92,0.3)"/>
<rect x="899" y="540" width="6" height="90" fill="rgba(83,185,135,0.3)"/>
<rect x="904" y="540" width="1" height="90" fill="rgba(83,185,135,0.3)"/>
<rect x="899" y="540" width="1" height="90" fill="rgba(83,185,135,0.12)"/>
<rect x="899" y="540" width="6" height="1" fill="rgba(83,185,135,0.3)"/>
<rect x="905" y="564" width="6" height="66" fill="rgba(83,185,135,0.3)"/>
<rect x="910" y="564" width="1" height="66" fill="rgba(83,185,135,0.3)"/>
<rect x="905" y="564" width="1" height="66" fill="rgba(83,185,135,0.12)"/>
<rect x="905" y="564" width="6" height="1" fill="rgba(83,185,135,0.3)"/>
<rect x="911" y="586" width="6" height="44" fill="rgba(83,185,135,0.3)"/>
<rect x="916" y="586" width="1" height="44" fill="rgba(83,185,135,0.3)"/>
<rect x="911" y="586" width="1" height="44" fill="rgba(83,185,135,0.12)"/>
<rect x="911" y="586" width="6" height="1" fill="rgba(83,185,135,0.3)"/>
<rect x="917" y="577" width="6" height="53" fill="rgba(235,77,92,0.3)"/>
<rect x="922" y="577" width="1" height="53" fill="rgba(235,77,92,0.3)"/>
<rect x="917" y="577" width="1" height="53" fill="rgba(235,77,92,0.12)"/>
<rect x="917" y="577" width="6" height="1" fill="rgba(235,77,92,0.3)"/>
<rect x="923" y="592" width="6" height="38" fill="rgba(83,185,135,0.3)"/>
<rect x="928" y="592" width="1" height="38" fill="rgba(83,185,135,0.3)"/>
<rect x="923" y="592" width="1" height="38" fill="rgba(83,185,135,0.12)"/>
<rect x="923" y="592" width="6" height="1" fill="rgba(83,185,135,0.3)"/>
<rect x="929" y="577" width="6" height="53" fill="rgba(83,185,135,0.3)"/>
<rect x="934" y="577" width="1" height="53" fill="rgba(83,185,135,0.3)"/>
<rect x="929" y="577" width="1" height="53" fill="rgba(83,185,135,0.12)"/>
<rect x="929" y="577" width="6" height="1" fill="rgba(83,185,135,0.3)"/>
<rect x="935" y="589" width="6" height="41" fill="rgba(83,185,135,0.3)"/>
<rect x="940" y="589" width="1" height="41" fill="rgba(83,185,135,0.3)"/>
<rect x="935" y="589" width="1" height="41" fill="rgba(83,185,135,0.12)"/>
<rect x="935" y="589" width="6" height="1" fill="rgba(83,185,135,0.3)"/>
<rect x="941" y="586" width="6" height="44" fill="rgba(235,77,92,0.3)"/>
<rect x="946" y="586" width="1" height="44" fill="rgba(235,77,92,0.3)"/>
<rect x="941" y="586" width="1" height="44" fill="rgba(235,77,92,0.12)"/>
<rect x="941" y="586" width="6" height="1" fill="rgba(235,77,92,0.3)"/>
<rect x="947" y="585" width="6" height="45" fill="rgba(235,77,92,0.3)"/>
<rect x="952" y="585" width="1" height="45" fill="rgba(235,77,92,0.3)"/>
<rect x="947" y="585" width="1" height="45" fill="rgba(235,77,92,0.12)"/>
<rect x="947" y="585" width="6" height="1" fill="rgba(235,77,92,0.3)"/>
<rect x="953" y="574" width="6" height="56" fill="rgba(235,77,92,0.3)"/>
<rect x="958" y="574" width="1" height="56" fill="rgba(235,77,92,0.3)"/>
<rect x="953" y="574" width="1" height="56" fill="rgba(235,77,92,0.12)"/>
<rect x="953" y="574" width="6" height="1" fill="rgba(235,77,92,0.3)"/>
<rect x="959" y="561" width="6" height="69" fill="rgba(235,77,92,0.3)"/>
<rect x="964" y="561" width="1" height="69" fill="rgba(235,77,92,0.3)"/>
<rect x="959" y="561" width="1" height="69" fill="rgba(235,77,92,0.12)"/>
<rect x="959" y="561" width="6" height="1" fill="rgba(235,77,92,0.3)"/>
<rect x="965" y="575" width="6" height="55" fill="rgba(235,77,92,0.3)"/>
<rect x="970" y="575" width="1" height="55" fill="rgba(235,77,92,0.3)"/>
<rect x="965" y="575" width="1" height="55" fill="rgba(235,77,92,0.12)"/>
<rect x="965" y="575" width="6" height="1" fill="rgba(235,77,92,0.3)"/>
<rect x="971" y="480" width="6" height="150" fill="rgba(235,77,92,0.3)"/>
<rect x="976" y="480" width="1" height="150" fill="rgba(235,77,92,0.3)"/>
<rect x="971" y="480" width="1" height="150" fill="rgba(235,77,92,0.12)"/>
<rect x="971" y="480" width="6" height="1" fill="rgba(235,77,92,0.3)"/>
<rect x="977" y="580" width="6" height="50" fill="rgba(83,185,135,0.3)"/>
<rect x="982" y="580" width="1" height="50" fill="rgba(83,185,135,0.3)"/>
<rect x="977" y="580" width="1" height="50" fill="rgba(83,185,135,0.12)"/>
<rect x="977" y="580" width="6" height="1" fill="rgba(83,185,135,0.3)"/>
<rect x="983" y="569" width="6" height="61" fill="rgba(235,77,92,0.3)"/>
<rect x="988" y="569" width="1" height="61" fill="rgba(235,77,92,0.3)"/>
<rect x="983" y="569" width="1" height="61" fill="rgba(235,77,92,0.12)"/>
<rect x="983" y="569" width="6" height="1" fill="rgba(235,77,92,0.3)"/>
<rect x="989" y="592" width="6" height="38" fill="rgba(83,185,135,0.3)"/>
<rect x="994" y="592" width="1" height="38" fill="rgba(83,185,135,0.3)"/>
<rect x="989" y="592" width="1" height="38" fill="rgba(83,185,135,0.12)"/>
<rect x="989" y="592" width="6" height="1" fill="rgba(83,185,135,0.3)"/>
<rect x="995" y="577" width="6" height="53" fill="rgba(83,185,135,0.3)"/>
<rect x="1000" y="577" width="1" height="53" fill="rgba(83,185,135,0.3)"/>
<rect x="995" y="577" width="1" height="53" fill="rgba(83,185,135,0.12)"/>
<rect x="995" y="577" width="6" height="1" fill="rgba(83,185,135,0.3)"/>
<rect x="1001" y="584" width="6" height="46" fill="rgba(235,77,92,0.3)"/>
<rect x="1006" y="584" width="1" height="46" fill="rgba(235,77,92,0.3)"/>
<rect x="1001" y="584" width="1" height="46" fill="rgba(235,77,92,0.12)"/>
<rect x="1001" y="584" width="6" height="1" fill="rgba(235,77,92,0.3)"/>
<rect x="1007" y="569" width="6" height="61" fill="rgba(235,77,92,0.3)"/>
<rect x="1012" y="569" width="1" height="61" fill="rgba(235,77,92,0.3)"/>
<rect x="1007" y="569" width="1" height="61" fill="rgba(235,77,92,0.12)"/>
<rect x="1007" y="569" width="6" height="1" fill="rgba(235,77,92,0.3)"/>
<rect x="1013" y="590" width="6" height="40" fill="rgba(235,77,92,0.3)"/>
<rect x="1018" y="590" width="1" height="40" fill="rgba(235,77,92,0.3)"/>
<rect x="1013" y="590" width="1" height="40" fill="rgba(235,77,92,0.12)"/>
<rect x="1013" y="590" width="6" height="1" fill="rgba(235,77,92,0.3)"/>
<rect x="1019" y="567" width="6" height="63" fill="rgba(235,77,92,0.3)"/>
<rect x="1024" y="567" width="1" height="63" fill="rgba(235,77,92,0.3)"/>
<rect x="1019" y="567" width="1" height="63" fill="rgba(235,77,92,0.12)"/>
<rect x="1019" y="567" width="6" height="1" fill="rgba(235,77,92,0.3)"/>
<rect x="1025" y="594" width="6" height="36" fill="rgba(83,185,135,0.3)"/>
<rect x="1030" y="594" width="1" height="36" fill="rgba(83,185,135,0.3)"/>
<rect x="1025" y="594" width="1" height="36" fill="rgba(83,185,135,0.12)"/>
<rect x="1025" y="594" width="6" height="1" fill="rgba(83,185,135,0.3)"/>
<rect x="1031" y="605" width="6" height="25" fill="rgba(235,77,92,0.3)"/>
<rect x="1036" y="605" width="1" height="25" fill="rgba(235,77,92,0.3)"/>
<rect x="1031" y="605" width="1" height="25" fill="rgba(235,77,92,0.12)"/>
<rect x="1031" y="605" width="6" height="1" fill="rgba(235,77,92,0.3)"/>
<rect x="1037" y="583" width="6" height="47" fill="rgba(83,185,135,0.3)"/>
<rect x="1042" y="583" width="1" height="47" fill="rgba(83,185,135,0.3)"/>
<rect x="1037" y="583" width="1" height="47" fill="rgba(83,185,135,0.12)"/>
<rect x="1037" y="583" width="6" height="1" fill="rgba(83,185,135,0.3)"/>
<rect x="1043" y="598" width="6" height="32" fill="rgba(83,185,135,0.3)"/>
<rect x="1048" y="598" width="1" height="32" fill="rgba(83,185,135,0.3)"/>
<rect x="1043" y="598" width="1" height="32" fill="rgba(83,185,135,0.12)"/>
<rect x="1043" y="598" width="6" height="1" fill="rgba(83,185,135,0.3)"/>
<rect x="1049" y="591" width="6" height="39" fill="rgba(83,185,135,0.3)"/>
<rect x="1054" y="591" width="1" height="39" fill="rgba(83,185,135,0.3)"/>
<rect x="1049" y="591" width="1" height="39" fill="rgba(83,185,135,0.12)"/>
<rect x="1049" y="591" width="6" height="1" fill="rgba(83,185,135,0.3)"/>
<rect x="1055" y="584" width="6" height="46" fill="rgba(83,185,135,0.3)"/>
<rect x="1060" y="584" width="1" height="46" fill="rgba(83,185,135,0.3)"/>
<rect x="1055" y="584" width="1" height="46" fill="rgba(83,185,135,0.12)"/>
<rect x="1055" y="584" width="6" height="1" fill="rgba(83,185,135,0.3)"/>
<rect x="1061" y="605" width="6" height="25" fill="rgba(83,185,135,0.3)"/>
<rect x="1066" y="605" width="1" height="25" fill="rgba(83,185,135,0.3)"/>
<rect x="1061" y="605" width="1" height="25" fill="rgba(83,185,135,0.12)"/>
<rect x="1061" y="605" width="6" height="1" fill="rgba(83,185,135,0.3)"/>
<rect x="1067" y="604" width="6" height="26" fill="rgba(235,77,92,0.3)"/>
<rect x="1072" y="604" width="1" height="26" fill="rgba(235,77,92,0.3)"/>
<rect x="1067" y="604" width="1" height="26" fill="rgba(235,77,92,0.12)"/>
<rect x="1067" y="604" width="6" height="1" fill="rgba(235,77,92,0.3)"/>
<rect x="1073" y="575" width="6" height="55" fill="rgba(235,77,92,0.3)"/>
<rect x="1078" y="575" width="1" height="55" fill="rgba(235,77,92,0.3)"/>
<rect x="1073" y="575" width="1" height="55" fill="rgba(235,77,92,0.12)"/>
<rect x="1073" y="575" width="6" height="1" fill="rgba(235,77,92,0.3)"/>
<rect x="1079" y="593" width="6" height="37" fill="rgba(235,77,92,0.3)"/>
<rect x="1084" y="593" width="1" height="37" fill="rgba(235,77,92,0.3)"/>
<rect x="1079" y="593" width="1" height="37" fill="rgba(235,77,92,0.12)"/>
<rect x="1079" y="593" width="6" height="1" fill="rgba(235,77,92,0.3)"/>
<rect x="1085" y="582" width="6" height="48" fill="rgba(83,185,135,0.3)"/>
<rect x="1090" y="582" width="1" height="48" fill="rgba(83,185,135,0.3)"/>
<rect x="1085" y="582" width="1" height="48" fill="rgba(83,185,135,0.12)"/>
<rect x="1085" y="582" width="6" height="1" fill="rgba(83,185,135,0.3)"/>
<rect x="1091" y="570" width="6" height="60" fill="rgba(235,77,92,0.3)"/>
<rect x="1096" y="570" width="1" height="60" fill="rgba(235,77,92,0.3)"/>
<rect x="1091" y="570" width="1" height="60" fill="rgba(235,77,92,0.12)"/>
<rect x="1091" y="570" width="6" height="1" fill="rgba(235,77,92,0.3)"/>
<rect x="1097" y="599" width="6" height="31" fill="rgba(83,185,135,0.3)"/>
<rect x="1102" y="599" width="1" height="31" fill="rgba(83,185,135,0.3)"/>
<rect x="1097" y="599" width="1" height="31" fill="rgba(83,185,135,0.12)"/>
<rect x="1097" y="599" width="6" height="1" fill="rgba(83,185,135,0.3)"/>
<rect x="1103" y="606" width="6" height="24" fill="rgba(83,185,135,0.3)"/>
<rect x="1108" y="606" width="1" height="24" fill="rgba(83,185,135,0.3)"/>
<rect x="1103" y="606" width="1" height="24" fill="rgba(83,185,135,0.12)"/>
<rect x="1103" y="606" width="6" height="1" fill="rgba(83,185,135,0.3)"/>
<rect x="1109" y="600" width="6" height="30" fill="rgba(235,77,92,0.3)"/>
<rect x="1114" y="600" width="1" height="30" fill="rgba(235,77,92,0.3)"/>
<rect x="1109" y="600" width="1" height="30" fill="rgba(235,77,92,0.12)"/>
<rect x="1109" y="600" width="6" height="1" fill="rgba(235,77,92,0.3)"/>
<rect x="1115" y="602" width="6" height="28" fill="rgba(83,185,135,0.3)"/>
<rect x="1120" y="602" width="1" height="28" fill="rgba(83,185,135,0.3)"/>
<rect x="1115" y="602" width="1" height="28" fill="rgba(83,185,135,0.12)"/>
<rect x="1115" y="602" width="6" height="1" fill="rgba(83,185,135,0.3)"/>
<rect x="1121" y="519" width="6" height="111" fill="rgba(235,77,92,0.3)"/>
<rect x="1126" y="519" width="1" height="111" fill="rgba(235,77,92,0.3)"/>
<rect x="1121" y="519" width="1" height="111" fill="rgba(235,77,92,0.12)"/>
<rect x="1121" y="519" width="6" height="1" fill="rgba(235,77,92,0.3)"/>
<rect x="1127" y="519" width="6" height="111" fill="rgba(83,185,135,0.3)"/>
<rect x="1132" y="519" width="1" height="111" fill="rgba(83,185,135,0.3)"/>
<rect x="1127" y="519" width="1" height="111" fill="rgba(83,185,135,0.12)"/>
<rect x="1127" y="519" width="6" height="1" fill="rgba(83,185,135,0.3)"/>
<rect x="1133" y="558" width="6" height="72" fill="rgba(235,77,92,0.3)"/>
<rect x="1138" y="558" width="1" height="72" fill="rgba(235,77,92,0.3)"/>
<rect x="1133" y="558" width="1" height="72" fill="rgba(235,77,92,0.12)"/>
<rect x="1133" y="558" width="6" height="1" fill="rgba(235,77,92,0.3)"/>
<rect x="1139" y="589" width="6" height="41" fill="rgba(83,185,135,0.3)"/>
<rect x="1144" y="589" width="1" height="41" fill="rgba(83,185,135,0.3)"/>
<rect x="1139" y="589" width="1" height="41" fill="rgba(83,185,135,0.12)"/>
<rect x="1139" y="589" width="6" height="1" fill="rgba(83,185,135,0.3)"/>
<rect x="1145" y="591" width="6" height="39" fill="rgba(83,185,135,0.3)"/>
<rect x="1150" y="591" width="1" height="39" fill="rgba(83,185,135,0.3)"/>
<rect x="1145" y="591" width="1" height="39" fill="rgba(83,185,135,0.12)"/>
<rect x="1145" y="591" width="6" height="1" fill="rgba(83,185,135,0.3)"/>
<rect x="1151" y="585" width="6" height="45" fill="rgba(235,77,92,0.3)"/>
<rect x="1156" y="585" width="1" height="45" fill="rgba(235,77,92,0.3)"/>
<rect x="1151" y="585" width="1" height="45" fill="rgba(235,77,92,0.12)"/>
<rect x="1151" y="585" width="6" height="1" fill="rgba(235,77,92,0.3)"/>
<rect x="1157" y="574" width="6" height="56" fill="rgba(235,77,92,0.3)"/>
<rect x="1162" y="574" width="1" height="56" fill="rgba(235,77,92,0.3)"/>
<rect x="1157" y="574" width="1" height="56" fill="rgba(235,77,92,0.12)"/>
<rect x="1157" y="574" width="6" height="1" fill="rgba(235,77,92,0.3)"/>
<rect x="1163" y="576" width="6" height="54" fill="rgba(83,185,135,0.3)"/>
<rect x="1168" y="576" width="1" height="54" fill="rgba(83,185,135,0.3)"/>
<rect x="1163" y="576" width="1" height="54" fill="rgba(83,185,135,0.12)"/>
<rect x="1163" y="576" width="6" height="1" fill="rgba(83,185,135,0.3)"/>
<rect x="1169" y="593" width="6" height="37" fill="rgba(83,185,135,0.3)"/>
<rect x="1174" y="593" width="1" height="37" fill="rgba(83,185,135,0.3)"/>
<rect x="1169" y="593" width="1" height="37" fill="rgba(83,185,135,0.12)"/>
<rect x="1169" y="593" width="6" height="1" fill="rgba(83,185,135,0.3)"/>
<rect x="1175" y="601" width="6" height="29" fill="rgba(235,77,92,0.3)"/>
<rect x="1180" y="601" width="1" height="29" fill="rgba(235,77,92,0.3)"/>
<rect x="1175" y="601" width="1" height="29" fill="rgba(235,77,92,0.12)"/>
<rect x="1175" y="601" width="6" height="1" fill="rgba(235,77,92,0.3)"/>
<rect x="1181" y="582" width="6" height="48" fill="rgba(235,77,92,0.3)"/>
<rect x="1186" y="582" width="1" height="48" fill="rgba(235,77,92,0.3)"/>
<rect x="1181" y="582" width="1" height="48" fill="rgba(235,77,92,0.12)"/>
<rect x="1181" y="582" width="6" height="1" fill="rgba(235,77,92,0.3)"/>
<rect x="1187" y="601" width="6" height="29" fill="rgba(83,185,135,0.3)"/>
<rect x="1192" y="601" width="1" height="29" fill="rgba(83,185,135,0.3)"/>
<rect x="1187" y="601" width="1" height="29" fill="rgba(83,185,135,0.12)"/>
<rect x="1187" y="601" width="6" height="1" fill="rgba(83,185,135,0.3)"/>
<rect x="1193" y="605" width="6" height="25" fill="rgba(83,185,135,0.3)"/>
<rect x="1198" y="605" width="1" height="25" fill="rgba(83,185,135,0.3)"/>
<rect x="1193" y="605" width="1" height="25" fill="rgba(83,185,135,0.12)"/>
<rect x="1193" y="605" width="6" height="1" fill="rgba(83,185,135,0.3)"/>
<rect x="1199" y="608" width="6" height="22" fill="rgba(235,77,92,0.3)"/>
<rect x="1204" y="608" width="1" height="22" fill="rgba(235,77,92,0.3)"/>
<rect x="1199" y="608" width="1" height="22" fill="rgba(235,77,92,0.12)"/>
<rect x="1199" y="608" width="6" height="1" fill="rgba(235,77,92,0.3)"/>
<rect x="1205" y="578" width="6" height="52" fill="rgba(235,77,92,0.3)"/>
<rect x="1210" y="578" width="1" height="52" fill="rgba(235,77,92,0.3)"/>
<rect x="1205" y="578" width="1" height="52" fill="rgba(235,77,92,0.12)"/>
<rect x="1205" y="578" width="6" height="1" fill="rgba(235,77,92,0.3)"/>
<rect x="1211" y="594" width="6" height="36" fill="rgba(83,185,135,0.3)"/>
<rect x="1216" y="594" width="1" height="36" fill="rgba(83,185,135,0.3)"/>
<rect x="1211" y="594" width="1" height="36" fill="rgba(83,185,135,0.12)"/>
<rect x="1211" y="594" width="6" height="1" fill="rgba(83,185,135,0.3)"/>
<rect x="1217" y="564" width="6" height="66" fill="rgba(235,77,92,0.3)"/>
<rect x="1222" y="564" width="1" height="66" fill="rgba(235,77,92,0.3)"/>
<rect x="1217" y="564" width="1" height="66" fill="rgba(235,77,92,0.12)"/>
<rect x="1217" y="564" width="6" height="1" fill="rgba(235,77,92,0.3)"/>
<rect x="1223" y="526" width="6" height="104" fill="rgba(235,77,92,0.3)"/>
<rect x="1228" y="526" width="1" height="104" fill="rgba(235,77,92,0.3)"/>
<rect x="1223" y="526" width="1" height="104" fill="rgba(235,77,92,0.12)"/>
<rect x="1223" y="526" width="6" height="1" fill="rgba(235,77,92,0.3)"/>
<rect x="1229" y="586" width="6" height="44" fill="rgba(83,185,135,0.3)"/>
<rect x="1234" y="586" width="1" height="44" fill="rgba(83,185,135,0.3)"/>
<rect x="1229" y="586" width="1" height="44" fill="rgba(83,185,135,0.12)"/>
<rect x="1229" y="586" width="6" height="1" fill="rgba(83,185,135,0.3)"/>
<rect x="1235" y="567" width="6" height="63" fill="rgba(235,77,92,0.3)"/>
<rect x="1240" y="567" width="1" height="63" fill="rgba(235,77,92,0.3)"/>
<rect x="1235" y="567" width="1" height="63" fill="rgba(235,77,92,0.12)"/>
<rect x="1235" y="567" width="6" height="1" fill="rgba(235,77,92,0.3)"/>
<rect x="1241" y="520" width="6" height="110" fill="rgba(235,77,92,0.3)"/>
<rect x="1246" y="520" width="1" height="110" fill="rgba(235,77,92,0.3)"/>
<rect x="1241" y="520" width="1" height="110" fill="rgba(235,77,92,0.12)"/>
<rect x="1241" y="520" width="6" height="1" fill="rgba(235,77,92,0.3)"/>
<rect x="1247" y="474" width="6" height="156" fill="rgba(83,185,135,0.3)"/>
<rect x="1252" y="474" width="1" height="156" fill="rgba(83,185,135,0.3)"/>
<rect x="1247" y="474" width="1" height="156" fill="rgba(83,185,135,0.12)"/>
<rect x="1247" y="474" width="6" height="1" fill="rgba(83,185,135,0.3)"/>
</g>
<path d="M7.6,613.7 L19.4,611.9 L27.6,611.4 L37.5,609.5 L43.5,606.9 L49.5,604.7 L55.5,603.6 L65.2,602.9 L73.6,601.4 L85.6,599.4 L97.6,597.6 L109.7,597.1 L116.3,596.4 L127.7,596.5 L139.6,597.6 L151.6,599.1 L157.6,599.7 L163.7,602.0 L169.7,603.5 L175.7,604.4 L181.7,604.4 L187.7,603.5 L193.5,603.9 L199.5,602.1 L205.5,601.7 L229.4,601.7 L235.5,602.4 L241.5,600.5 L253.5,600.5 L259.5,601.4 L271.6,601.7 L283.6,602.4 L331.6,602.4 L337.6,603.2 L343.6,602.0 L349.4,601.4 L355.5,601.4 L361.5,602.4 L367.5,601.4 L373.5,599.4 L379.5,595.6 L385.5,588.1 L391.6,586.3 L403.4,584.1 L415.5,582.1 L421.5,581.4 L433.5,581.4 L439.5,583.3 L451.6,585.4 L457.4,584.4 L463.4,585.4 L469.4,584.4 L475.5,585.1 L481.5,585.1 L487.5,586.3 L493.5,587.4 L499.5,592.6 L505.5,597.9 L511.6,600.2 L517.4,601.4 L523.4,602.1 L529.4,602.1 L535.5,602.4 L541.5,603.5 L547.5,601.7 L553.5,599.7 L559.5,598.6 L565.5,597.6 L577.6,597.6 L583.4,596.7 L589.4,596.7 L595.4,595.3 L601.5,594.4 L607.5,593.4 L613.5,592.3 L619.5,590.7 L625.5,589.3 L631.5,588.9 L637.6,588.4 L643.4,588.1 L649.4,587.4 L655.4,588.4 L661.5,587.7 L667.5,588.4 L673.5,588.4 L679.5,587.7 L685.5,588.4 L691.5,587.7 L697.6,586.6 L703.4,587.4 L709.4,585.4 L715.4,585.1 L721.5,584.4 L727.5,583.6 L733.5,579.8 L739.5,577.3 L745.5,576.1 L751.5,575.3 L757.5,574.3 L763.6,571.3 L769.4,572.0 L787.5,572.0 L793.5,574.3 L799.5,575.3 L805.5,576.4 L811.5,576.4 L817.5,575.0 L823.6,574.6 L829.4,576.4 L835.4,572.6 L841.4,570.5 L847.5,569.3 L853.5,574.3 L859.5,576.4 L865.5,576.4 L871.5,577.3 L877.5,577.3 L883.6,574.3 L889.4,570.5 L895.4,569.0 L901.4,566.3 L907.5,565.3 L913.5,564.4 L919.5,563.3 L925.5,563.3 L931.5,562.3 L937.5,563.3 L949.6,563.3 L955.4,567.1 L961.4,569.3 L967.4,569.3 L973.5,564.4 L997.5,564.4 L1003.5,567.8 L1009.6,570.1 L1015.4,571.6 L1021.4,573.4 L1027.4,574.6 L1033.5,575.3 L1039.5,575.6 L1045.5,576.4 L1057.5,576.4 L1063.5,577.3 L1069.6,578.3 L1075.4,578.6 L1081.4,580.3 L1087.4,580.3 L1093.5,584.4 L1099.5,585.4 L1105.5,587.1 L1111.5,588.1 L1117.5,589.3 L1123.5,586.3 L1129.5,583.6 L1135.4,582.6 L1141.4,583.3 L1147.4,583.3 L1153.4,582.4 L1159.4,581.4 L1165.5,580.3 L1171.5,580.3 L1177.5,581.1 L1183.5,580.3 L1189.5,580.3 L1195.4,581.4 L1201.4,582.4 L1207.4,582.4 L1213.4,583.6 L1219.4,581.4 L1225.5,577.6 L1231.5,576.8 L1237.5,575.3 L1243.5,575.3 L1249.5,573.4" fill="none" stroke="#ff8d4c" stroke-width="1" stroke-linejoin="round" clip-path="url(#cp)"/>
<g clip-path="url(#cp)" shape-rendering="crispEdges">
<rect x="7" y="581" width="1" height="7" fill="#f5a6ae"/>
<rect x="5" y="582" width="5" height="5" fill="#eb4d5c"/>
<rect x="13" y="585" width="1" height="9" fill="#f5a6ae"/>
<rect x="11" y="586" width="5" height="8" fill="#eb4d5c"/>
<rect x="19" y="590" width="1" height="7" fill="#f5a6ae"/>
<rect x="17" y="593" width="5" height="2" fill="#eb4d5c"/>
<rect x="25" y="585" width="1" height="10" fill="#a9cdd3"/>
<rect x="23" y="585" width="5" height="10" fill="#53b987"/>
<rect x="31" y="580" width="1" height="8" fill="#a9cdd3"/>
<rect x="29" y="583" width="5" height="3" fill="#53b987"/>
<rect x="37" y="580" width="1" height="5" fill="#f5a6ae"/>
<rect x="35" y="583" width="5" height="2" fill="#eb4d5c"/>
<rect x="43" y="563" width="1" height="22" fill="#a9cdd3"/>
<rect x="41" y="565" width="5" height="20" fill="#53b987"/>
<rect x="49" y="564" width="1" height="9" fill="#f5a6ae"/>
<rect x="47" y="565" width="5" height="7" fill="#eb4d5c"/>
<rect x="55" y="563" width="1" height="9" fill="#a9cdd3"/>
<rect x="53" y="566" width="5" height="6" fill="#53b987"/>
<rect x="61" y="565" width="1" height="7" fill="#f5a6ae"/>
<rect x="59" y="566" width="5" height="4" fill="#eb4d5c"/>
<rect x="67" y="567" width="1" height="3" fill="#a9cdd3"/>
<rect x="65" y="568" width="5" height="2" fill="#53b987"/>
<rect x="73" y="567" width="1" height="12" fill="#f5a6ae"/>
<rect x="71" y="568" width="5" height="7" fill="#eb4d5c"/>
<rect x="79" y="573" width="1" height="6" fill="#f5a6ae"/>
<rect x="77" y="574" width="5" height="3" fill="#eb4d5c"/>
<rect x="85" y="571" width="1" height="6" fill="#a9cdd3"/>
<rect x="83" y="571" width="5" height="6" fill="#53b987"/>
<rect x="91" y="566" width="1" height="6" fill="#a9cdd3"/>
<rect x="89" y="567" width="5" height="5" fill="#53b987"/>
<rect x="97" y="567" width="1" height="4" fill="#f5a6ae"/>
<rect x="95" y="567" width="5" height="4" fill="#eb4d5c"/>
<rect x="103" y="568" width="1" height="6" fill="#a9cdd3"/>
<rect x="101" y="569" width="5" height="2" fill="#53b987"/>
<rect x="109" y="564" width="1" height="6" fill="#a9cdd3"/>
<rect x="107" y="565" width="5" height="5" fill="#53b987"/>
<rect x="115" y="564" width="1" height="9" fill="#f5a6ae"/>
<rect x="113" y="565" width="5" height="5" fill="#eb4d5c"/>
<rect x="121" y="568" width="1" height="5" fill="#f5a6ae"/>
<rect x="119" y="569" width="5" height="2" fill="#eb4d5c"/>
<rect x="127" y="566" width="1" height="5" fill="#a9cdd3"/>
<rect x="125" y="567" width="5" height="4" fill="#53b987"/>
<rect x="133" y="565" width="1" height="3" fill="#a9cdd3"/>
<rect x="131" y="565" width="5" height="3" fill="#53b987"/>
<rect x="139" y="550" width="1" height="16" fill="#a9cdd3"/>
<rect x="137" y="553" width="5" height="13" fill="#53b987"/>
<rect x="145" y="551" width="1" height="5" fill="#f5a6ae"/>
<rect x="143" y="553" width="5" height="1" fill="#eb4d5c"/>
<rect x="151" y="547" width="1" height="8" fill="#a9cdd3"/>
<rect x="149" y="548" width="5" height="6" fill="#53b987"/>
<rect x="157" y="546" width="1" height="4" fill="#a9cdd3"/>
<rect x="155" y="548" width="5" height="1" fill="#53b987"/>
<rect x="163" y="547" width="1" height="5" fill="#f5a6ae"/>
<rect x="161" y="548" width="5" height="3" fill="#eb4d5c"/>
<rect x="169" y="547" width="1" height="4" fill="#a9cdd3"/>
<rect x="167" y="548" width="5" height="3" fill="#53b987"/>
<rect x="175" y="539" width="1" height="10" fill="#a9cdd3"/>
<rect x="173" y="541" width="5" height="8" fill="#53b987"/>
<rect x="181" y="530" width="1" height="12" fill="#a9cdd3"/>
<rect x="179" y="534" width="5" height="8" fill="#53b987"/>
<rect x="187" y="523" width="1" height="12" fill="#a9cdd3"/>
<rect x="185" y="527" width="5" height="8" fill="#53b987"/>
<rect x="193" y="519" width="1" height="12" fill="#a9cdd3"/>
<rect x="191" y="519" width="5" height="9" fill="#53b987"/>
<rect x="199" y="516" width="1" height="19" fill="#f5a6ae"/>
<rect x="197" y="519" width="5" height="7" fill="#eb4d5c"/>
<rect x="205" y="517" width="1" height="15" fill="#a9cdd3"/>
<rect x="203" y="517" width="5" height="9" fill="#53b987"/>
<rect x="211" y="514" width="1" height="11" fill="#f5a6ae"/>
<rect x="209" y="517" width="5" height="5" fill="#eb4d5c"/>
<rect x="217" y="518" width="1" height="13" fill="#f5a6ae"/>
<rect x="215" y="521" width="5" height="7" fill="#eb4d5c"/>
<rect x="223" y="524" width="1" height="8" fill="#a9cdd3"/>
<rect x="221" y="525" width="5" height="3" fill="#53b987"/>
<rect x="229" y="523" width="1" height="7" fill="#f5a6ae"/>
<rect x="227" y="525" width="5" height="3" fill="#eb4d5c"/>
<rect x="235" y="526" width="1" height="5" fill="#f5a6ae"/>
<rect x="233" y="528" width="5" height="2" fill="#eb4d5c"/>
<rect x="241" y="525" width="1" height="17" fill="#a9cdd3"/>
<rect x="239" y="527" width="5" height="3" fill="#53b987"/>
<rect x="247" y="521" width="1" height="7" fill="#a9cdd3"/>
<rect x="245" y="525" width="5" height="3" fill="#53b987"/>
<rect x="253" y="517" width="1" height="10" fill="#a9cdd3"/>
<rect x="251" y="519" width="5" height="7" fill="#53b987"/>
<rect x="259" y="515" width="1" height="7" fill="#a9cdd3"/>
<rect x="257" y="518" width="5" height="2" fill="#53b987"/>
<rect x="265" y="518" width="1" height="4" fill="#f5a6ae"/>
<rect x="263" y="518" width="5" height="2" fill="#eb4d5c"/>
<rect x="271" y="517" width="1" height="3" fill="#f5a6ae"/>
<rect x="269" y="519" width="5" height="1" fill="#eb4d5c"/>
<rect x="277" y="517" width="1" height="7" fill="#a9cdd3"/>
<rect x="275" y="517" width="5" height="3" fill="#53b987"/>
<rect x="283" y="509" width="1" height="10" fill="#a9cdd3"/>
<rect x="281" y="511" width="5" height="7" fill="#53b987"/>
<rect x="289" y="509" width="1" height="5" fill="#f5a6ae"/>
<rect x="287" y="511" width="5" height="2" fill="#eb4d5c"/>
<rect x="295" y="506" width="1" height="7" fill="#a9cdd3"/>
<rect x="293" y="507" width="5" height="6" fill="#53b987"/>
<rect x="301" y="500" width="1" height="9" fill="#a9cdd3"/>
<rect x="299" y="501" width="5" height="7" fill="#53b987"/>
<rect x="307" y="499" width="1" height="18" fill="#f5a6ae"/>
<rect x="305" y="501" width="5" height="13" fill="#eb4d5c"/>
<rect x="313" y="507" width="1" height="12" fill="#a9cdd3"/>
<rect x="311" y="511" width="5" height="3" fill="#53b987"/>
<rect x="319" y="510" width="1" height="18" fill="#f5a6ae"/>
<rect x="317" y="511" width="5" height="13" fill="#eb4d5c"/>
<rect x="325" y="515" width="1" height="18" fill="#a9cdd3"/>
<rect x="323" y="518" width="5" height="6" fill="#53b987"/>
<rect x="331" y="510" width="1" height="9" fill="#a9cdd3"/>
<rect x="329" y="511" width="5" height="8" fill="#53b987"/>
<rect x="337" y="508" width="1" height="7" fill="#a9cdd3"/>
<rect x="335" y="510" width="5" height="2" fill="#53b987"/>
<rect x="343" y="508" width="1" height="18" fill="#f5a6ae"/>
<rect x="341" y="510" width="5" height="11" fill="#eb4d5c"/>
<rect x="349" y="517" width="1" height="8" fill="#a9cdd3"/>
<rect x="347" y="519" width="5" height="2" fill="#53b987"/>
<rect x="355" y="519" width="1" height="11" fill="#f5a6ae"/>
<rect x="353" y="520" width="5" height="3" fill="#eb4d5c"/>
<rect x="361" y="517" width="1" height="9" fill="#f5a6ae"/>
<rect x="359" y="522" width="5" height="2" fill="#eb4d5c"/>
<rect x="367" y="518" width="1" height="10" fill="#f5a6ae"/>
<rect x="365" y="523" width="5" height="3" fill="#eb4d5c"/>
<rect x="373" y="524" width="1" height="14" fill="#f5a6ae"/>
<rect x="371" y="525" width="5" height="10" fill="#eb4d5c"/>
<rect x="379" y="532" width="1" height="22" fill="#f5a6ae"/>
<rect x="377" y="534" width="5" height="20" fill="#eb4d5c"/>
<rect x="385" y="535" width="1" height="26" fill="#a9cdd3"/>
<rect x="383" y="539" width="5" height="15" fill="#53b987"/>
<rect x="391" y="533" width="1" height="12" fill="#f5a6ae"/>
<rect x="389" y="539" width="5" height="1" fill="#eb4d5c"/>
<rect x="397" y="536" width="1" height="10" fill="#f5a6ae"/>
<rect x="395" y="539" width="5" height="2" fill="#eb4d5c"/>
<rect x="403" y="526" width="1" height="15" fill="#a9cdd3"/>
<rect x="401" y="527" width="5" height="14" fill="#53b987"/>
<rect x="409" y="526" width="1" height="9" fill="#f5a6ae"/>
<rect x="407" y="527" width="5" height="7" fill="#eb4d5c"/>
<rect x="415" y="528" width="1" height="7" fill="#f5a6ae"/>
<rect x="413" y="533" width="5" height="1" fill="#eb4d5c"/>
<rect x="421" y="532" width="1" height="11" fill="#f5a6ae"/>
<rect x="419" y="533" width="5" height="10" fill="#eb4d5c"/>
<rect x="427" y="537" width="1" height="8" fill="#a9cdd3"/>
<rect x="425" y="542" width="5" height="1" fill="#53b987"/>
<rect x="433" y="535" width="1" height="8" fill="#a9cdd3"/>
<rect x="431" y="536" width="5" height="7" fill="#53b987"/>
<rect x="439" y="536" width="1" height="5" fill="#f5a6ae"/>
<rect x="437" y="536" width="5" height="5" fill="#eb4d5c"/>
<rect x="445" y="530" width="1" height="11" fill="#a9cdd3"/>
<rect x="443" y="532" width="5" height="9" fill="#53b987"/>
<rect x="451" y="530" width="1" height="4" fill="#f5a6ae"/>
<rect x="449" y="532" width="5" height="2" fill="#eb4d5c"/>
<rect x="457" y="522" width="1" height="12" fill="#a9cdd3"/>
<rect x="455" y="523" width="5" height="11" fill="#53b987"/>
<rect x="463" y="521" width="1" height="5" fill="#f5a6ae"/>
<rect x="461" y="523" width="5" height="1" fill="#eb4d5c"/>
<rect x="469" y="522" width="1" height="7" fill="#f5a6ae"/>
<rect x="467" y="523" width="5" height="2" fill="#eb4d5c"/>
<rect x="475" y="517" width="1" height="8" fill="#a9cdd3"/>
<rect x="473" y="518" width="5" height="7" fill="#53b987"/>
<rect x="481" y="516" width="1" height="6" fill="#a9cdd3"/>
<rect x="479" y="517" width="5" height="2" fill="#53b987"/>
<rect x="487" y="514" width="1" height="4" fill="#f5a6ae"/>
<rect x="485" y="517" width="5" height="1" fill="#eb4d5c"/>
<rect x="493" y="516" width="1" height="7" fill="#f5a6ae"/>
<rect x="491" y="517" width="5" height="4" fill="#eb4d5c"/>
<rect x="499" y="518" width="1" height="6" fill="#f5a6ae"/>
<rect x="497" y="520" width="5" height="4" fill="#eb4d5c"/>
<rect x="505" y="518" width="1" height="7" fill="#a9cdd3"/>
<rect x="503" y="520" width="5" height="4" fill="#53b987"/>
<rect x="511" y="516" width="1" height="5" fill="#a9cdd3"/>
<rect x="509" y="518" width="5" height="3" fill="#53b987"/>
<rect x="517" y="514" width="1" height="6" fill="#a9cdd3"/>
<rect x="515" y="516" width="5" height="3" fill="#53b987"/>
<rect x="523" y="510" width="1" height="7" fill="#a9cdd3"/>
<rect x="521" y="510" width="5" height="7" fill="#53b987"/>
<rect x="529" y="502" width="1" height="10" fill="#a9cdd3"/>
<rect x="527" y="505" width="5" height="6" fill="#53b987"/>
<rect x="535" y="500" width="1" height="7" fill="#f5a6ae"/>
<rect x="533" y="505" width="5" height="1" fill="#eb4d5c"/>
<rect x="541" y="502" width="1" height="5" fill="#a9cdd3"/>
<rect x="539" y="504" width="5" height="2" fill="#53b987"/>
<rect x="547" y="484" width="1" height="21" fill="#a9cdd3"/>
<rect x="545" y="484" width="5" height="21" fill="#53b987"/>
<rect x="553" y="469" width="1" height="17" fill="#a9cdd3"/>
<rect x="551" y="478" width="5" height="7" fill="#53b987"/>
<rect x="559" y="471" width="1" height="9" fill="#a9cdd3"/>
<rect x="557" y="472" width="5" height="7" fill="#53b987"/>
<rect x="565" y="471" width="1" height="13" fill="#f5a6ae"/>
<rect x="563" y="472" width="5" height="5" fill="#eb4d5c"/>
<rect x="571" y="473" width="1" height="7" fill="#a9cdd3"/>
<rect x="569" y="474" width="5" height="3" fill="#53b987"/>
<rect x="577" y="474" width="1" height="8" fill="#f5a6ae"/>
<rect x="575" y="474" width="5" height="6" fill="#eb4d5c"/>
<rect x="583" y="479" width="1" height="15" fill="#f5a6ae"/>
<rect x="581" y="479" width="5" height="2" fill="#eb4d5c"/>
<rect x="589" y="475" width="1" height="7" fill="#a9cdd3"/>
<rect x="587" y="476" width="5" height="5" fill="#53b987"/>
<rect x="595" y="464" width="1" height="15" fill="#a9cdd3"/>
<rect x="593" y="467" width="5" height="10" fill="#53b987"/>
<rect x="601" y="460" width="1" height="11" fill="#a9cdd3"/>
<rect x="599" y="467" width="5" height="1" fill="#53b987"/>
<rect x="607" y="464" width="1" height="12" fill="#f5a6ae"/>
<rect x="605" y="467" width="5" height="1" fill="#eb4d5c"/>
<rect x="613" y="465" width="1" height="14" fill="#f5a6ae"/>
<rect x="611" y="467" width="5" height="4" fill="#eb4d5c"/>
<rect x="619" y="470" width="1" height="14" fill="#f5a6ae"/>
<rect x="617" y="470" width="5" height="13" fill="#eb4d5c"/>
<rect x="625" y="475" width="1" height="12" fill="#a9cdd3"/>
<rect x="623" y="475" width="5" height="8" fill="#53b987"/>
<rect x="631" y="468" width="1" height="9" fill="#a9cdd3"/>
<rect x="629" y="470" width="5" height="6" fill="#53b987"/>
<rect x="637" y="466" width="1" height="11" fill="#f5a6ae"/>
<rect x="635" y="470" width="5" height="5" fill="#eb4d5c"/>
<rect x="643" y="471" width="1" height="7" fill="#f5a6ae"/>
<rect x="641" y="474" width="5" height="2" fill="#eb4d5c"/>
<rect x="649" y="456" width="1" height="21" fill="#a9cdd3"/>
<rect x="647" y="462" width="5" height="15" fill="#53b987"/>
<rect x="655" y="459" width="1" height="8" fill="#f5a6ae"/>
<rect x="653" y="462" width="5" height="2" fill="#eb4d5c"/>
<rect x="661" y="452" width="1" height="12" fill="#a9cdd3"/>
<rect x="659" y="452" width="5" height="12" fill="#53b987"/>
<rect x="667" y="444" width="1" height="12" fill="#a9cdd3"/>
<rect x="665" y="444" width="5" height="9" fill="#53b987"/>
<rect x="673" y="424" width="1" height="21" fill="#a9cdd3"/>
<rect x="671" y="435" width="5" height="10" fill="#53b987"/>
<rect x="679" y="421" width="1" height="17" fill="#a9cdd3"/>
<rect x="677" y="431" width="5" height="5" fill="#53b987"/>
<rect x="685" y="419" width="1" height="19" fill="#a9cdd3"/>
<rect x="683" y="424" width="5" height="8" fill="#53b987"/>
<rect x="691" y="417" width="1" height="10" fill="#f5a6ae"/>
<rect x="689" y="424" width="5" height="1" fill="#eb4d5c"/>
<rect x="697" y="422" width="1" height="16" fill="#f5a6ae"/>
<rect x="695" y="424" width="5" height="14" fill="#eb4d5c"/>
<rect x="703" y="429" width="1" height="9" fill="#a9cdd3"/>
<rect x="701" y="432" width="5" height="6" fill="#53b987"/>
<rect x="709" y="407" width="1" height="29" fill="#a9cdd3"/>
<rect x="707" y="421" width="5" height="12" fill="#53b987"/>
<rect x="715" y="421" width="1" height="14" fill="#f5a6ae"/>
<rect x="713" y="421" width="5" height="11" fill="#eb4d5c"/>
<rect x="721" y="425" width="1" height="29" fill="#f5a6ae"/>
<rect x="719" y="431" width="5" height="20" fill="#eb4d5c"/>
<rect x="727" y="442" width="1" height="20" fill="#f5a6ae"/>
<rect x="725" y="450" width="5" height="8" fill="#eb4d5c"/>
<rect x="733" y="452" width="1" height="34" fill="#f5a6ae"/>
<rect x="731" y="457" width="5" height="17" fill="#eb4d5c"/>
<rect x="739" y="445" width="1" height="29" fill="#a9cdd3"/>
<rect x="737" y="452" width="5" height="22" fill="#53b987"/>
<rect x="745" y="445" width="1" height="12" fill="#a9cdd3"/>
<rect x="743" y="448" width="5" height="5" fill="#53b987"/>
<rect x="751" y="425" width="1" height="24" fill="#a9cdd3"/>
<rect x="749" y="427" width="5" height="22" fill="#53b987"/>
<rect x="757" y="403" width="1" height="30" fill="#a9cdd3"/>
<rect x="755" y="408" width="5" height="20" fill="#53b987"/>
<rect x="763" y="403" width="1" height="17" fill="#f5a6ae"/>
<rect x="761" y="408" width="5" height="7" fill="#eb4d5c"/>
<rect x="769" y="408" width="1" height="14" fill="#a9cdd3"/>
<rect x="767" y="411" width="5" height="4" fill="#53b987"/>
<rect x="775" y="400" width="1" height="15" fill="#a9cdd3"/>
<rect x="773" y="402" width="5" height="10" fill="#53b987"/>
<rect x="781" y="394" width="1" height="12" fill="#a9cdd3"/>
<rect x="779" y="396" width="5" height="7" fill="#53b987"/>
<rect x="787" y="392" width="1" height="20" fill="#f5a6ae"/>
<rect x="785" y="396" width="5" height="6" fill="#eb4d5c"/>
<rect x="793" y="394" width="1" height="8" fill="#a9cdd3"/>
<rect x="791" y="397" width="5" height="5" fill="#53b987"/>
<rect x="799" y="396" width="1" height="10" fill="#f5a6ae"/>
<rect x="797" y="397" width="5" height="9" fill="#eb4d5c"/>
<rect x="805" y="393" width="1" height="15" fill="#a9cdd3"/>
<rect x="803" y="398" width="5" height="8" fill="#53b987"/>
<rect x="811" y="380" width="1" height="20" fill="#a9cdd3"/>
<rect x="809" y="380" width="5" height="19" fill="#53b987"/>
<rect x="817" y="357" width="1" height="24" fill="#a9cdd3"/>
<rect x="815" y="363" width="5" height="18" fill="#53b987"/>
<rect x="823" y="349" width="1" height="16" fill="#a9cdd3"/>
<rect x="821" y="350" width="5" height="14" fill="#53b987"/>
<rect x="829" y="341" width="1" height="14" fill="#a9cdd3"/>
<rect x="827" y="345" width="5" height="6" fill="#53b987"/>
<rect x="835" y="296" width="1" height="77" fill="#f5a6ae"/>
<rect x="833" y="345" width="5" height="5" fill="#eb4d5c"/>
<rect x="841" y="324" width="1" height="54" fill="#a9cdd3"/>
<rect x="839" y="344" width="5" height="6" fill="#53b987"/>
<rect x="847" y="312" width="1" height="49" fill="#a9cdd3"/>
<rect x="845" y="314" width="5" height="31" fill="#53b987"/>
<rect x="853" y="304" width="1" height="18" fill="#a9cdd3"/>
<rect x="851" y="314" width="5" height="1" fill="#53b987"/>
<rect x="859" y="283" width="1" height="52" fill="#a9cdd3"/>
<rect x="857" y="305" width="5" height="10" fill="#53b987"/>
<rect x="865" y="291" width="1" height="28" fill="#a9cdd3"/>
<rect x="863" y="291" width="5" height="15" fill="#53b987"/>
<rect x="871" y="280" width="1" height="17" fill="#f5a6ae"/>
<rect x="869" y="291" width="5" height="2" fill="#eb4d5c"/>
<rect x="877" y="229" width="1" height="64" fill="#a9cdd3"/>
<rect x="875" y="231" width="5" height="62" fill="#53b987"/>
<rect x="883" y="133" width="1" height="110" fill="#a9cdd3"/>
<rect x="881" y="134" width="5" height="98" fill="#53b987"/>
<rect x="889" y="117" width="1" height="108" fill="#f5a6ae"/>
<rect x="887" y="134" width="5" height="26" fill="#eb4d5c"/>
<rect x="895" y="144" width="1" height="103" fill="#f5a6ae"/>
<rect x="893" y="158" width="5" height="38" fill="#eb4d5c"/>
<rect x="901" y="162" width="1" height="94" fill="#a9cdd3"/>
<rect x="899" y="186" width="5" height="10" fill="#53b987"/>
<rect x="907" y="108" width="1" height="80" fill="#a9cdd3"/>
<rect x="905" y="130" width="5" height="58" fill="#53b987"/>
<rect x="913" y="104" width="1" height="43" fill="#a9cdd3"/>
<rect x="911" y="123" width="5" height="8" fill="#53b987"/>
<rect x="919" y="113" width="1" height="52" fill="#f5a6ae"/>
<rect x="917" y="123" width="5" height="26" fill="#eb4d5c"/>
<rect x="925" y="122" width="1" height="36" fill="#a9cdd3"/>
<rect x="923" y="141" width="5" height="8" fill="#53b987"/>
<rect x="931" y="87" width="1" height="55" fill="#a9cdd3"/>
<rect x="929" y="104" width="5" height="38" fill="#53b987"/>
<rect x="937" y="42" width="1" height="79" fill="#a9cdd3"/>
<rect x="935" y="53" width="5" height="52" fill="#53b987"/>
<rect x="943" y="32" width="1" height="39" fill="#f5a6ae"/>
<rect x="941" y="53" width="5" height="9" fill="#eb4d5c"/>
<rect x="949" y="54" width="1" height="36" fill="#f5a6ae"/>
<rect x="947" y="61" width="5" height="2" fill="#eb4d5c"/>
<rect x="955" y="60" width="1" height="81" fill="#f5a6ae"/>
<rect x="953" y="62" width="5" height="50" fill="#eb4d5c"/>
<rect x="961" y="100" width="1" height="69" fill="#f5a6ae"/>
<rect x="959" y="111" width="5" height="30" fill="#eb4d5c"/>
<rect x="967" y="112" width="1" height="79" fill="#f5a6ae"/>
<rect x="965" y="140" width="5" height="26" fill="#eb4d5c"/>
<rect x="973" y="158" width="1" height="161" fill="#f5a6ae"/>
<rect x="971" y="165" width="5" height="78" fill="#eb4d5c"/>
<rect x="979" y="185" width="1" height="77" fill="#a9cdd3"/>
<rect x="977" y="215" width="5" height="28" fill="#53b987"/>
<rect x="985" y="215" width="1" height="76" fill="#f5a6ae"/>
<rect x="983" y="215" width="5" height="18" fill="#eb4d5c"/>
<rect x="991" y="207" width="1" height="51" fill="#a9cdd3"/>
<rect x="989" y="228" width="5" height="5" fill="#53b987"/>
<rect x="997" y="152" width="1" height="79" fill="#a9cdd3"/>
<rect x="995" y="163" width="5" height="66" fill="#53b987"/>
<rect x="1003" y="138" width="1" height="64" fill="#f5a6ae"/>
<rect x="1001" y="163" width="5" height="11" fill="#eb4d5c"/>
<rect x="1009" y="170" width="1" height="73" fill="#f5a6ae"/>
<rect x="1007" y="173" width="5" height="34" fill="#eb4d5c"/>
<rect x="1015" y="181" width="1" height="41" fill="#f5a6ae"/>
<rect x="1013" y="206" width="5" height="2" fill="#eb4d5c"/>
<rect x="1021" y="203" width="1" height="87" fill="#f5a6ae"/>
<rect x="1019" y="207" width="5" height="61" fill="#eb4d5c"/>
<rect x="1027" y="209" width="1" height="65" fill="#a9cdd3"/>
<rect x="1025" y="223" width="5" height="45" fill="#53b987"/>
<rect x="1033" y="219" width="1" height="35" fill="#f5a6ae"/>
<rect x="1031" y="224" width="5" height="13" fill="#eb4d5c"/>
<rect x="1039" y="169" width="1" height="85" fill="#a9cdd3"/>
<rect x="1037" y="193" width="5" height="44" fill="#53b987"/>
<rect x="1045" y="171" width="1" height="29" fill="#a9cdd3"/>
<rect x="1043" y="180" width="5" height="15" fill="#53b987"/>
<rect x="1051" y="172" width="1" height="42" fill="#a9cdd3"/>
<rect x="1049" y="180" width="5" height="1" fill="#53b987"/>
<rect x="1057" y="119" width="1" height="74" fill="#a9cdd3"/>
<rect x="1055" y="125" width="5" height="56" fill="#53b987"/>
<rect x="1063" y="114" width="1" height="32" fill="#a9cdd3"/>
<rect x="1061" y="117" width="5" height="9" fill="#53b987"/>
<rect x="1069" y="117" width="1" height="45" fill="#f5a6ae"/>
<rect x="1067" y="117" width="5" height="31" fill="#eb4d5c"/>
<rect x="1075" y="143" width="1" height="81" fill="#f5a6ae"/>
<rect x="1073" y="147" width="5" height="42" fill="#eb4d5c"/>
<rect x="1081" y="174" width="1" height="38" fill="#f5a6ae"/>
<rect x="1079" y="188" width="5" height="16" fill="#eb4d5c"/>
<rect x="1087" y="188" width="1" height="50" fill="#a9cdd3"/>
<rect x="1085" y="188" width="5" height="16" fill="#53b987"/>
<rect x="1093" y="185" width="1" height="74" fill="#f5a6ae"/>
<rect x="1091" y="188" width="5" height="52" fill="#eb4d5c"/>
<rect x="1099" y="213" width="1" height="42" fill="#a9cdd3"/>
<rect x="1097" y="223" width="5" height="17" fill="#53b987"/>
<rect x="1105" y="198" width="1" height="26" fill="#a9cdd3"/>
<rect x="1103" y="210" width="5" height="14" fill="#53b987"/>
<rect x="1111" y="204" width="1" height="47" fill="#f5a6ae"/>
<rect x="1109" y="210" width="5" height="21" fill="#eb4d5c"/>
<rect x="1117" y="205" width="1" height="33" fill="#a9cdd3"/>
<rect x="1115" y="229" width="5" height="2" fill="#53b987"/>
<rect x="1123" y="228" width="1" height="115" fill="#f5a6ae"/>
<rect x="1121" y="229" width="5" height="80" fill="#eb4d5c"/>
<rect x="1129" y="294" width="1" height="70" fill="#a9cdd3"/>
<rect x="1127" y="307" width="5" height="2" fill="#53b987"/>
<rect x="1135" y="282" width="1" height="43" fill="#f5a6ae"/>
<rect x="1133" y="307" width="5" height="3" fill="#eb4d5c"/>
<rect x="1141" y="282" width="1" height="39" fill="#a9cdd3"/>
<rect x="1139" y="295" width="5" height="15" fill="#53b987"/>
<rect x="1147" y="247" width="1" height="50" fill="#a9cdd3"/>
<rect x="1145" y="256" width="5" height="40" fill="#53b987"/>
<rect x="1153" y="256" width="1" height="54" fill="#f5a6ae"/>
<rect x="1151" y="256" width="5" height="39" fill="#eb4d5c"/>
<rect x="1159" y="282" width="1" height="59" fill="#f5a6ae"/>
<rect x="1157" y="294" width="5" height="24" fill="#eb4d5c"/>
<rect x="1165" y="297" width="1" height="48" fill="#a9cdd3"/>
<rect x="1163" y="316" width="5" height="2" fill="#53b987"/>
<rect x="1171" y="293" width="1" height="35" fill="#a9cdd3"/>
<rect x="1169" y="298" width="5" height="19" fill="#53b987"/>
<rect x="1177" y="287" width="1" height="28" fill="#f5a6ae"/>
<rect x="1175" y="298" width="5" height="8" fill="#eb4d5c"/>
<rect x="1183" y="288" width="1" height="45" fill="#f5a6ae"/>
<rect x="1181" y="305" width="5" height="4" fill="#eb4d5c"/>
<rect x="1189" y="288" width="1" height="28" fill="#a9cdd3"/>
<rect x="1187" y="296" width="5" height="13" fill="#53b987"/>
<rect x="1195" y="273" width="1" height="25" fill="#a9cdd3"/>
<rect x="1193" y="284" width="5" height="13" fill="#53b987"/>
<rect x="1201" y="280" width="1" height="28" fill="#f5a6ae"/>
<rect x="1199" y="284" width="5" height="20" fill="#eb4d5c"/>
<rect x="1207" y="302" width="1" height="44" fill="#f5a6ae"/>
<rect x="1205" y="303" width="5" height="34" fill="#eb4d5c"/>
<rect x="1213" y="328" width="1" height="21" fill="#a9cdd3"/>
<rect x="1211" y="333" width="5" height="4" fill="#53b987"/>
<rect x="1219" y="331" width="1" height="44" fill="#f5a6ae"/>
<rect x="1217" y="333" width="5" height="35" fill="#eb4d5c"/>
<rect x="1225" y="366" width="1" height="39" fill="#f5a6ae"/>
<rect x="1223" y="367" width="5" height="10" fill="#eb4d5c"/>
<rect x="1231" y="357" width="1" height="41" fill="#a9cdd3"/>
<rect x="1229" y="366" width="5" height="11" fill="#53b987"/>
<rect x="1237" y="360" width="1" height="50" fill="#f5a6ae"/>
<rect x="1235" y="366" width="5" height="33" fill="#eb4d5c"/>
<rect x="1243" y="392" width="1" height="54" fill="#f5a6ae"/>
<rect x="1241" y="398" width="5" height="40" fill="#eb4d5c"/>
<rect x="1249" y="408" width="1" height="59" fill="#a9cdd3"/>
<rect x="1247" y="416" width="5" height="22" fill="#53b987"/>
</g>
<line x1="6" y1="416.5" x2="1283" y2="416.5" stroke="#53b987" stroke-width="1" stroke-dasharray="2 1" shape-rendering="crispEdges"/>
<g shape-rendering="crispEdges">
<rect x="1283" y="1" width="1" height="631" fill="#4d4d4d"/>
<rect x="6" y="631" width="1278" height="1" fill="#4d4d4d"/>
<rect x="1284" y="28" width="3" height="1" fill="#4d4d4d"/>
<rect x="1284" y="59" width="3" height="1" fill="#4d4d4d"/>
<rect x="1284" y="91" width="3" height="1" fill="#4d4d4d"/>
<rect x="1284" y="122" width="3" height="1" fill="#4d4d4d"/>
<rect x="1284" y="153" width="3" height="1" fill="#4d4d4d"/>
<rect x="1284" y="185" width="3" height="1" fill="#4d4d4d"/>
<rect x="1284" y="216" width="3" height="1" fill="#4d4d4d"/>
<rect x="1284" y="247" width="3" height="1" fill="#4d4d4d"/>
<rect x="1284" y="279" width="3" height="1" fill="#4d4d4d"/>
<rect x="1284" y="310" width="3" height="1" fill="#4d4d4d"/>
<rect x="1284" y="341" width="3" height="1" fill="#4d4d4d"/>
<rect x="1284" y="373" width="3" height="1" fill="#4d4d4d"/>
<rect x="1284" y="404" width="3" height="1" fill="#4d4d4d"/>
<rect x="1284" y="435" width="3" height="1" fill="#4d4d4d"/>
<rect x="1284" y="467" width="3" height="1" fill="#4d4d4d"/>
<rect x="1284" y="498" width="3" height="1" fill="#4d4d4d"/>
<rect x="1284" y="529" width="3" height="1" fill="#4d4d4d"/>
<rect x="1284" y="561" width="3" height="1" fill="#4d4d4d"/>
<rect x="1284" y="592" width="3" height="1" fill="#4d4d4d"/>
<rect x="1284" y="623" width="3" height="1" fill="#4d4d4d"/>
<rect x="26" y="632" width="1" height="3" fill="#4d4d4d"/>
<rect x="116" y="632" width="1" height="3" fill="#4d4d4d"/>
<rect x="194" y="632" width="1" height="3" fill="#4d4d4d"/>
<rect x="302" y="632" width="1" height="3" fill="#4d4d4d"/>
<rect x="404" y="632" width="1" height="3" fill="#4d4d4d"/>
<rect x="482" y="632" width="1" height="3" fill="#4d4d4d"/>
<rect x="572" y="632" width="1" height="3" fill="#4d4d4d"/>
<rect x="668" y="632" width="1" height="3" fill="#4d4d4d"/>
<rect x="746" y="632" width="1" height="3" fill="#4d4d4d"/>
<rect x="848" y="632" width="1" height="3" fill="#4d4d4d"/>
<rect x="950" y="632" width="1" height="3" fill="#4d4d4d"/>
<rect x="1034" y="632" width="1" height="3" fill="#4d4d4d"/>
<rect x="1118" y="632" width="1" height="3" fill="#4d4d4d"/>
<rect x="1220" y="632" width="1" height="3" fill="#4d4d4d"/>
</g>
<text x="1290" y="32.5" font-size="11" fill="#505050">20000.0</text>
<text x="1290" y="63.5" font-size="11" fill="#505050">19000.0</text>
<text x="1290" y="95.5" font-size="11" fill="#505050">18000.0</text>
<text x="1290" y="126.5" font-size="11" fill="#505050">17000.0</text>
<text x="1290" y="157.5" font-size="11" fill="#505050">16000.0</text>
<text x="1290" y="189.5" font-size="11" fill="#505050">15000.0</text>
<text x="1290" y="220.5" font-size="11" fill="#505050">14000.0</text>
<text x="1290" y="251.5" font-size="11" fill="#505050">13000.0</text>
<text x="1290" y="283.5" font-size="11" fill="#505050">12000.0</text>
<text x="1290" y="314.5" font-size="11" fill="#505050">11000.0</text>
<text x="1290" y="345.5" font-size="11" fill="#505050">10000.0</text>
<text x="1290" y="377.5" font-size="11" fill="#505050">9000.0</text>
<text x="1290" y="408.5" font-size="11" fill="#505050">8000.0</text>
<text x="1290" y="439.5" font-size="11" fill="#505050">7000.0</text>
<text x="1290" y="471.5" font-size="11" fill="#505050">6000.0</text>
<text x="1290" y="502.5" font-size="11" fill="#505050">5000.0</text>
<text x="1290" y="533.5" font-size="11" fill="#505050">4000.0</text>
<text x="1290" y="565.5" font-size="11" fill="#505050">3000.0</text>
<text x="1290" y="596.5" font-size="11" fill="#505050">2000.0</text>
<text x="1290" y="627.5" font-size="11" fill="#505050">1000.0</text>
<rect x="1283" y="409" width="45" height="16" fill="#53b987" shape-rendering="crispEdges"/>
<rect x="1283" y="416" width="3" height="1" fill="#fff" shape-rendering="crispEdges"/>
<text x="1290" y="420.5" font-size="11" fill="#fff">7613.5</text>
<text x="26" y="646" font-size="11" fill="#505050" text-anchor="middle">17</text>
<text x="116" y="646" font-size="11" fill="#505050" text-anchor="middle">Aug</text>
<text x="194" y="646" font-size="11" fill="#505050" text-anchor="middle">14</text>
<text x="302" y="646" font-size="11" fill="#505050" text-anchor="middle">Sep</text>
<text x="404" y="646" font-size="11" fill="#505050" text-anchor="middle">18</text>
<text x="482" y="646" font-size="11" fill="#505050" text-anchor="middle">Oct</text>
<text x="572" y="646" font-size="11" fill="#505050" text-anchor="middle">16</text>
<text x="668" y="646" font-size="11" fill="#505050" text-anchor="middle">Nov</text>
<text x="746" y="646" font-size="11" fill="#505050" text-anchor="middle">14</text>
<text x="848" y="646" font-size="11" fill="#505050" text-anchor="middle">Dec</text>
<text x="950" y="646" font-size="11" fill="#505050" text-anchor="middle">18</text>
<text x="1034" y="646" font-size="11" fill="#505050" text-anchor="middle" font-weight="bold">2018</text>
<text x="1118" y="646" font-size="11" fill="#505050" text-anchor="middle">15</text>
<text x="1220" y="646" font-size="11" fill="#505050" text-anchor="middle">Feb</text>
<defs><linearGradient id="sh" x1="0" y1="0" x2="0" y2="1"><stop offset="0" stop-color="#8a9097" stop-opacity="0.65"/><stop offset="1" stop-color="#8a9097" stop-opacity="0"/></linearGradient><clipPath id="pc"><rect x="219" y="1" width="316" height="8"/></clipPath></defs>
<rect x="219" y="9.5" width="317" height="4" fill="url(#sh)"/><rect x="217.5" y="1" width="2" height="9" fill="#8a9097" fill-opacity="0.18"/><rect x="535" y="1" width="2" height="9" fill="#8a9097" fill-opacity="0.18"/>
<rect x="219.5" y="1" width="315.5" height="8.7" fill="#fff"/><rect x="515" y="1" width="1" height="8" fill="#e6e9ec"/>
<rect x="235.3" y="1" width="100" height="7.9" fill="#fdeff0"/>
<rect x="378.3" y="1" width="100.5" height="7.3" fill="#eef7fb"/>
<g clip-path="url(#pc)"><text x="243" y="2.6" font-size="12" font-weight="bold" fill="#555">7613.0</text><text x="386" y="2.6" font-size="12" font-weight="bold" fill="#555">7613.5</text></g>
<rect x="11.5" y="12.5" width="12" height="12" rx="1.6" fill="#fff" stroke="#666" stroke-width="1"/>
<rect x="13" y="18" width="9" height="1" fill="#666" shape-rendering="crispEdges"/>
<path d="M252,18 L260,18 L256,22 Z" fill="#c4c4c4"/>
<rect x="270" y="13" width="14" height="14" fill="#dadada"/>
<ellipse cx="277" cy="20" rx="5" ry="4" fill="#fff"/><circle cx="277" cy="20" r="2.6" fill="#dadada"/><circle cx="277" cy="20" r="1.2" fill="#fff"/>
<rect x="287" y="13" width="14" height="14" fill="#dadada"/>
<circle cx="294" cy="20" r="3.3" fill="none" stroke="#fff" stroke-width="2"/>
<line x1="297.80" y1="20.00" x2="299.60" y2="20.00" stroke="#fff" stroke-width="1.8"/>
<line x1="296.69" y1="22.69" x2="297.96" y2="23.96" stroke="#fff" stroke-width="1.8"/>
<line x1="294.00" y1="23.80" x2="294.00" y2="25.60" stroke="#fff" stroke-width="1.8"/>
<line x1="291.31" y1="22.69" x2="290.04" y2="23.96" stroke="#fff" stroke-width="1.8"/>
<line x1="290.20" y1="20.00" x2="288.40" y2="20.00" stroke="#fff" stroke-width="1.8"/>
<line x1="291.31" y1="17.31" x2="290.04" y2="16.04" stroke="#fff" stroke-width="1.8"/>
<line x1="294.00" y1="16.20" x2="294.00" y2="14.40" stroke="#fff" stroke-width="1.8"/>
<line x1="296.69" y1="17.31" x2="297.96" y2="16.04" stroke="#fff" stroke-width="1.8"/>
<text x="29.53" y="25.6" font-size="16" fill="#454545" stroke="#454545" stroke-width="0.3" textLength="53.84" lengthAdjust="spacingAndGlyphs">Bitcoin</text>
<text transform="translate(92.2,25.6) skewX(-13)" text-anchor="middle" font-size="16" fill="#454545" stroke="#454545" stroke-width="0.3">/</text>
<text x="101.70" y="25.6" font-size="16" fill="#454545" stroke="#454545" stroke-width="0.3" textLength="50.93" lengthAdjust="spacingAndGlyphs">Dollar,</text>
<text x="157.79" y="25.6" font-size="16" fill="#454545" stroke="#454545" stroke-width="0.3" textLength="18.18" lengthAdjust="spacingAndGlyphs">D,</text>
<text x="180.10" y="25.6" font-size="16" fill="#454545" stroke="#454545" stroke-width="0.3" textLength="67.68" lengthAdjust="spacingAndGlyphs">BITFINEX</text>
<text x="308.09" y="24.8" font-size="15" fill="#454545" textLength="10.88" lengthAdjust="spacingAndGlyphs">O</text>
<text x="319.99" y="24.8" font-size="15" fill="#53b987" textLength="44.85" lengthAdjust="spacingAndGlyphs">6948.6</text>
<text x="374.13" y="24.8" font-size="15" fill="#454545" textLength="10.35" lengthAdjust="spacingAndGlyphs">H</text>
<text x="385.92" y="24.8" font-size="15" fill="#53b987" textLength="44.11" lengthAdjust="spacingAndGlyphs">7880.0</text>
<text x="439.10" y="24.8" font-size="15" fill="#454545" textLength="8.36" lengthAdjust="spacingAndGlyphs">L</text>
<text x="449.51" y="24.8" font-size="15" fill="#53b987" textLength="43.74" lengthAdjust="spacingAndGlyphs">6000.0</text>
<text x="502.71" y="24.8" font-size="15" fill="#454545" textLength="9.38" lengthAdjust="spacingAndGlyphs">C</text>
<text x="513.94" y="24.8" font-size="15" fill="#53b987" textLength="43.90" lengthAdjust="spacingAndGlyphs">7613.5</text>
<text x="10.84" y="44.5" font-size="12" fill="#555" textLength="17.96" lengthAdjust="spacingAndGlyphs">Vol</text>
<text x="31.40" y="44.5" font-size="12" fill="#555" textLength="21.92" lengthAdjust="spacingAndGlyphs">(20)</text>
<text x="148.06" y="45.7" font-size="12" fill="#53b987" textLength="49.70" lengthAdjust="spacingAndGlyphs">186.022K</text>
<text x="206.66" y="45.7" font-size="12" fill="#ff8d4c" textLength="43.66" lengthAdjust="spacingAndGlyphs">66.931K</text>
<path d="M57.7,38 L64.5,38 L61.1,41.7 Z" fill="#c4c4c4"/>
<rect x="75" y="34" width="14" height="14" fill="#dadada"/>
<ellipse cx="82" cy="41" rx="5" ry="4" fill="#fff"/><circle cx="82" cy="41" r="2.6" fill="#dadada"/><circle cx="82" cy="41" r="1.2" fill="#fff"/>
<rect x="92" y="34" width="14" height="14" fill="#dadada"/>
<circle cx="99" cy="41" r="3.3" fill="none" stroke="#fff" stroke-width="2"/>
<line x1="102.80" y1="41.00" x2="104.60" y2="41.00" stroke="#fff" stroke-width="1.8"/>
<line x1="101.69" y1="43.69" x2="102.96" y2="44.96" stroke="#fff" stroke-width="1.8"/>
<line x1="99.00" y1="44.80" x2="99.00" y2="46.60" stroke="#fff" stroke-width="1.8"/>
<line x1="96.31" y1="43.69" x2="95.04" y2="44.96" stroke="#fff" stroke-width="1.8"/>
<line x1="95.20" y1="41.00" x2="93.40" y2="41.00" stroke="#fff" stroke-width="1.8"/>
<line x1="96.31" y1="38.31" x2="95.04" y2="37.04" stroke="#fff" stroke-width="1.8"/>
<line x1="99.00" y1="37.20" x2="99.00" y2="35.40" stroke="#fff" stroke-width="1.8"/>
<line x1="101.69" y1="38.31" x2="102.96" y2="37.04" stroke="#fff" stroke-width="1.8"/>
<rect x="109" y="34" width="14" height="14" fill="#dadada"/>
<rect x="111.5" y="40" width="9" height="2" fill="#fff"/><rect x="115" y="36.5" width="2" height="9" fill="#fff"/>
<rect x="126" y="34" width="14" height="14" fill="#dadada"/>
<path d="M129,37 L137,45 M137,37 L129,45" stroke="#fff" stroke-width="1.6" fill="none"/>
<g>
<g opacity="0.92"><path d="M1256,608 H1270 V622.5 Q1266,625 1263,623.5 T1257.5,623 L1256,617.8 Z" fill="#f3f5f9"/>
<rect x="1264" y="608.2" width="6" height="2.2" fill="#e9505f"/>
<path d="M1264,615 Q1267,614.3 1270,615.4 V618.2 Q1267,617.3 1264,618 Z" fill="#e9505f"/>
<path d="M1257.6,621 Q1262,622 1270,620.6 V623 Q1265,625 1262,623.8 T1258.4,623.6 Z" fill="#e9505f"/>
<rect x="1256" y="608" width="8" height="9.8" fill="#5a8fe0"/>
<rect x="1258" y="610" width="1" height="1" fill="#a9c6f0"/>
<rect x="1261" y="610" width="1" height="1" fill="#a9c6f0"/>
<rect x="1258" y="613" width="1" height="1" fill="#a9c6f0"/>
<rect x="1261" y="613" width="1" height="1" fill="#a9c6f0"/>
<rect x="1258" y="616" width="1" height="1" fill="#a9c6f0"/>
<rect x="1261" y="616" width="1" height="1" fill="#a9c6f0"/>
</g>
<circle cx="1263.0" cy="616" r="11.3" fill="none" stroke="#ff9a1f" stroke-width="1.3"/>
<g opacity="0.92"><path d="M1249,608 H1263 V622.5 Q1259,625 1256,623.5 T1250.5,623 L1249,617.8 Z" fill="#f3f5f9"/>
<rect x="1257" y="608.2" width="6" height="2.2" fill="#e9505f"/>
<path d="M1257,615 Q1260,614.3 1263,615.4 V618.2 Q1260,617.3 1257,618 Z" fill="#e9505f"/>
<path d="M1250.6,621 Q1255,622 1263,620.6 V623 Q1258,625 1255,623.8 T1251.4,623.6 Z" fill="#e9505f"/>
<rect x="1249" y="608" width="8" height="9.8" fill="#5a8fe0"/>
<rect x="1251" y="610" width="1" height="1" fill="#a9c6f0"/>
<rect x="1254" y="610" width="1" height="1" fill="#a9c6f0"/>
<rect x="1251" y="613" width="1" height="1" fill="#a9c6f0"/>
<rect x="1254" y="613" width="1" height="1" fill="#a9c6f0"/>
<rect x="1251" y="616" width="1" height="1" fill="#a9c6f0"/>
<rect x="1254" y="616" width="1" height="1" fill="#a9c6f0"/>
</g>
<circle cx="1256.7" cy="616" r="11.3" fill="none" stroke="#ff9a1f" stroke-width="1.3"/>
<g opacity="0.92"><path d="M1243,608 H1257 V622.5 Q1253,625 1250,623.5 T1244.5,623 L1243,617.8 Z" fill="#f3f5f9"/>
<rect x="1251" y="608.2" width="6" height="2.2" fill="#e9505f"/>
<path d="M1251,615 Q1254,614.3 1257,615.4 V618.2 Q1254,617.3 1251,618 Z" fill="#e9505f"/>
<path d="M1244.6,621 Q1249,622 1257,620.6 V623 Q1252,625 1249,623.8 T1245.4,623.6 Z" fill="#e9505f"/>
<rect x="1243" y="608" width="8" height="9.8" fill="#5a8fe0"/>
<rect x="1245" y="610" width="1" height="1" fill="#a9c6f0"/>
<rect x="1248" y="610" width="1" height="1" fill="#a9c6f0"/>
<rect x="1245" y="613" width="1" height="1" fill="#a9c6f0"/>
<rect x="1248" y="613" width="1" height="1" fill="#a9c6f0"/>
<rect x="1245" y="616" width="1" height="1" fill="#a9c6f0"/>
<rect x="1248" y="616" width="1" height="1" fill="#a9c6f0"/>
</g>
<circle cx="1250.5" cy="616" r="11.3" fill="none" stroke="#f7455c" stroke-width="1.3"/>
<rect x="1253" y="603.5" width="23.5" height="11" fill="#fff"/>
<clipPath id="c5"><rect x="1271" y="600" width="3.3" height="16"/></clipPath><clipPath id="c2"><rect x="1265.3" y="600" width="3.2" height="16"/></clipPath>
<text x="1268.6" y="612.8" font-size="11" fill="#333" clip-path="url(#c5)">5</text>
<text x="1263.0" y="612.8" font-size="11" fill="#333" clip-path="url(#c2)">2</text>
<text x="1257" y="612.8" font-size="11" fill="#333">3</text>
</g>
<g shape-rendering="crispEdges"><rect x="0" y="0" width="1330" height="1" fill="#000"/><rect x="0" y="0" width="1" height="655" fill="#000"/><rect x="0" y="654" width="1330" height="1" fill="#000"/><rect x="1329" y="0" width="1" height="655" fill="#000"/></g>
</svg>
</body></html>
